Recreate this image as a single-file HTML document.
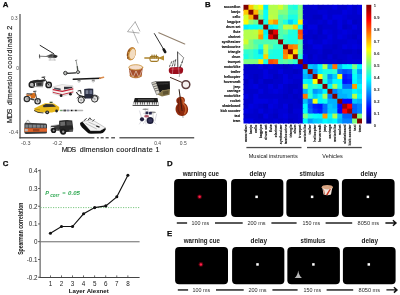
<!DOCTYPE html>
<html lang="en"><head><meta charset="utf-8"><title>Figure</title>
<style>
html,body{margin:0;padding:0;background:#fff}
svg{display:block;will-change:transform}
text{font-family:"Liberation Sans",Arial,sans-serif}
.b{font-weight:bold}
</style></head><body>
<svg width="400" height="295" viewBox="0 0 400 295">
<rect width="400" height="295" fill="#fff"/>
<g id="panelB">
<rect x="243.50" y="4.80" width="6.14" height="6.15" fill="#800000"/>
<rect x="248.44" y="4.80" width="6.14" height="6.15" fill="#ffc700"/>
<rect x="253.38" y="4.80" width="6.14" height="6.15" fill="#d1ff2e"/>
<rect x="258.31" y="4.80" width="6.14" height="6.15" fill="#faff05"/>
<rect x="263.25" y="4.80" width="6.14" height="6.15" fill="#00f0ff"/>
<rect x="268.19" y="4.80" width="6.14" height="6.15" fill="#b3ff4c"/>
<rect x="273.12" y="4.80" width="6.14" height="6.15" fill="#b3ff4c"/>
<rect x="278.06" y="4.80" width="6.14" height="6.15" fill="#d1ff2e"/>
<rect x="283.00" y="4.80" width="6.14" height="6.15" fill="#94ff6b"/>
<rect x="287.94" y="4.80" width="6.14" height="6.15" fill="#2effd1"/>
<rect x="292.88" y="4.80" width="6.14" height="6.15" fill="#1affe5"/>
<rect x="297.81" y="4.80" width="6.14" height="6.15" fill="#80ff80"/>
<rect x="302.75" y="4.80" width="6.14" height="6.15" fill="#0000cc"/>
<rect x="307.69" y="4.80" width="6.14" height="6.15" fill="#0000cc"/>
<rect x="312.62" y="4.80" width="6.14" height="6.15" fill="#0000d6"/>
<rect x="317.56" y="4.80" width="6.14" height="6.15" fill="#0000c2"/>
<rect x="322.50" y="4.80" width="6.14" height="6.15" fill="#0000cc"/>
<rect x="327.44" y="4.80" width="6.14" height="6.15" fill="#0000cc"/>
<rect x="332.38" y="4.80" width="6.14" height="6.15" fill="#0000e0"/>
<rect x="337.31" y="4.80" width="6.14" height="6.15" fill="#0000cc"/>
<rect x="342.25" y="4.80" width="6.14" height="6.15" fill="#0000cc"/>
<rect x="347.19" y="4.80" width="6.14" height="6.15" fill="#0000e0"/>
<rect x="352.12" y="4.80" width="6.14" height="6.15" fill="#0000cc"/>
<rect x="357.06" y="4.80" width="4.94" height="6.15" fill="#0000e0"/>
<rect x="243.50" y="9.75" width="6.14" height="6.15" fill="#ffc700"/>
<rect x="248.44" y="9.75" width="6.14" height="6.15" fill="#800000"/>
<rect x="253.38" y="9.75" width="6.14" height="6.15" fill="#ffb300"/>
<rect x="258.31" y="9.75" width="6.14" height="6.15" fill="#94ff6b"/>
<rect x="263.25" y="9.75" width="6.14" height="6.15" fill="#05fffa"/>
<rect x="268.19" y="9.75" width="6.14" height="6.15" fill="#b3ff4c"/>
<rect x="273.12" y="9.75" width="6.14" height="6.15" fill="#b3ff4c"/>
<rect x="278.06" y="9.75" width="6.14" height="6.15" fill="#80ff80"/>
<rect x="283.00" y="9.75" width="6.14" height="6.15" fill="#80ff80"/>
<rect x="287.94" y="9.75" width="6.14" height="6.15" fill="#38ffc7"/>
<rect x="292.88" y="9.75" width="6.14" height="6.15" fill="#38ffc7"/>
<rect x="297.81" y="9.75" width="6.14" height="6.15" fill="#80ff80"/>
<rect x="302.75" y="9.75" width="6.14" height="6.15" fill="#0000cc"/>
<rect x="307.69" y="9.75" width="6.14" height="6.15" fill="#0000cc"/>
<rect x="312.62" y="9.75" width="6.14" height="6.15" fill="#0000cc"/>
<rect x="317.56" y="9.75" width="6.14" height="6.15" fill="#0000d6"/>
<rect x="322.50" y="9.75" width="6.14" height="6.15" fill="#0000d6"/>
<rect x="327.44" y="9.75" width="6.14" height="6.15" fill="#0000cc"/>
<rect x="332.38" y="9.75" width="6.14" height="6.15" fill="#0000cc"/>
<rect x="337.31" y="9.75" width="6.14" height="6.15" fill="#0000cc"/>
<rect x="342.25" y="9.75" width="6.14" height="6.15" fill="#0000e0"/>
<rect x="347.19" y="9.75" width="6.14" height="6.15" fill="#0000d6"/>
<rect x="352.12" y="9.75" width="6.14" height="6.15" fill="#0000cc"/>
<rect x="357.06" y="9.75" width="4.94" height="6.15" fill="#0000e0"/>
<rect x="243.50" y="14.69" width="6.14" height="6.15" fill="#d1ff2e"/>
<rect x="248.44" y="14.69" width="6.14" height="6.15" fill="#ffb300"/>
<rect x="253.38" y="14.69" width="6.14" height="6.15" fill="#800000"/>
<rect x="258.31" y="14.69" width="6.14" height="6.15" fill="#6bff94"/>
<rect x="263.25" y="14.69" width="6.14" height="6.15" fill="#05fffa"/>
<rect x="268.19" y="14.69" width="6.14" height="6.15" fill="#bdff42"/>
<rect x="273.12" y="14.69" width="6.14" height="6.15" fill="#b3ff4c"/>
<rect x="278.06" y="14.69" width="6.14" height="6.15" fill="#4dffb2"/>
<rect x="283.00" y="14.69" width="6.14" height="6.15" fill="#61ff9e"/>
<rect x="287.94" y="14.69" width="6.14" height="6.15" fill="#1affe5"/>
<rect x="292.88" y="14.69" width="6.14" height="6.15" fill="#1affe5"/>
<rect x="297.81" y="14.69" width="6.14" height="6.15" fill="#80ff80"/>
<rect x="302.75" y="14.69" width="6.14" height="6.15" fill="#0000cc"/>
<rect x="307.69" y="14.69" width="6.14" height="6.15" fill="#0000cc"/>
<rect x="312.62" y="14.69" width="6.14" height="6.15" fill="#0000c2"/>
<rect x="317.56" y="14.69" width="6.14" height="6.15" fill="#0000c2"/>
<rect x="322.50" y="14.69" width="6.14" height="6.15" fill="#0000e0"/>
<rect x="327.44" y="14.69" width="6.14" height="6.15" fill="#0000cc"/>
<rect x="332.38" y="14.69" width="6.14" height="6.15" fill="#0000e0"/>
<rect x="337.31" y="14.69" width="6.14" height="6.15" fill="#0000e0"/>
<rect x="342.25" y="14.69" width="6.14" height="6.15" fill="#0000d6"/>
<rect x="347.19" y="14.69" width="6.14" height="6.15" fill="#0000cc"/>
<rect x="352.12" y="14.69" width="6.14" height="6.15" fill="#0000cc"/>
<rect x="357.06" y="14.69" width="4.94" height="6.15" fill="#0000cc"/>
<rect x="243.50" y="19.64" width="6.14" height="6.15" fill="#faff05"/>
<rect x="248.44" y="19.64" width="6.14" height="6.15" fill="#94ff6b"/>
<rect x="253.38" y="19.64" width="6.14" height="6.15" fill="#6bff94"/>
<rect x="258.31" y="19.64" width="6.14" height="6.15" fill="#800000"/>
<rect x="263.25" y="19.64" width="6.14" height="6.15" fill="#1affe5"/>
<rect x="268.19" y="19.64" width="6.14" height="6.15" fill="#ffc700"/>
<rect x="273.12" y="19.64" width="6.14" height="6.15" fill="#ff9400"/>
<rect x="278.06" y="19.64" width="6.14" height="6.15" fill="#4dffb2"/>
<rect x="283.00" y="19.64" width="6.14" height="6.15" fill="#1affe5"/>
<rect x="287.94" y="19.64" width="6.14" height="6.15" fill="#00d1ff"/>
<rect x="292.88" y="19.64" width="6.14" height="6.15" fill="#05fffa"/>
<rect x="297.81" y="19.64" width="6.14" height="6.15" fill="#fff000"/>
<rect x="302.75" y="19.64" width="6.14" height="6.15" fill="#0000e0"/>
<rect x="307.69" y="19.64" width="6.14" height="6.15" fill="#0000cc"/>
<rect x="312.62" y="19.64" width="6.14" height="6.15" fill="#0000cc"/>
<rect x="317.56" y="19.64" width="6.14" height="6.15" fill="#0000d6"/>
<rect x="322.50" y="19.64" width="6.14" height="6.15" fill="#0000cc"/>
<rect x="327.44" y="19.64" width="6.14" height="6.15" fill="#0000e0"/>
<rect x="332.38" y="19.64" width="6.14" height="6.15" fill="#0000cc"/>
<rect x="337.31" y="19.64" width="6.14" height="6.15" fill="#0000e0"/>
<rect x="342.25" y="19.64" width="6.14" height="6.15" fill="#0000cc"/>
<rect x="347.19" y="19.64" width="6.14" height="6.15" fill="#0000e0"/>
<rect x="352.12" y="19.64" width="6.14" height="6.15" fill="#0000c2"/>
<rect x="357.06" y="19.64" width="4.94" height="6.15" fill="#0000cc"/>
<rect x="243.50" y="24.58" width="6.14" height="6.15" fill="#00f0ff"/>
<rect x="248.44" y="24.58" width="6.14" height="6.15" fill="#05fffa"/>
<rect x="253.38" y="24.58" width="6.14" height="6.15" fill="#05fffa"/>
<rect x="258.31" y="24.58" width="6.14" height="6.15" fill="#1affe5"/>
<rect x="263.25" y="24.58" width="6.14" height="6.15" fill="#800000"/>
<rect x="268.19" y="24.58" width="6.14" height="6.15" fill="#00f0ff"/>
<rect x="273.12" y="24.58" width="6.14" height="6.15" fill="#05fffa"/>
<rect x="278.06" y="24.58" width="6.14" height="6.15" fill="#4dffb2"/>
<rect x="283.00" y="24.58" width="6.14" height="6.15" fill="#bdff42"/>
<rect x="287.94" y="24.58" width="6.14" height="6.15" fill="#b3ff4c"/>
<rect x="292.88" y="24.58" width="6.14" height="6.15" fill="#ffd100"/>
<rect x="297.81" y="24.58" width="6.14" height="6.15" fill="#1affe5"/>
<rect x="302.75" y="24.58" width="6.14" height="6.15" fill="#0000cc"/>
<rect x="307.69" y="24.58" width="6.14" height="6.15" fill="#0000e0"/>
<rect x="312.62" y="24.58" width="6.14" height="6.15" fill="#0000e0"/>
<rect x="317.56" y="24.58" width="6.14" height="6.15" fill="#0000c2"/>
<rect x="322.50" y="24.58" width="6.14" height="6.15" fill="#0000cc"/>
<rect x="327.44" y="24.58" width="6.14" height="6.15" fill="#0000cc"/>
<rect x="332.38" y="24.58" width="6.14" height="6.15" fill="#0000cc"/>
<rect x="337.31" y="24.58" width="6.14" height="6.15" fill="#0000e0"/>
<rect x="342.25" y="24.58" width="6.14" height="6.15" fill="#0000c2"/>
<rect x="347.19" y="24.58" width="6.14" height="6.15" fill="#0000cc"/>
<rect x="352.12" y="24.58" width="6.14" height="6.15" fill="#0000e0"/>
<rect x="357.06" y="24.58" width="4.94" height="6.15" fill="#0000cc"/>
<rect x="243.50" y="29.53" width="6.14" height="6.15" fill="#b3ff4c"/>
<rect x="248.44" y="29.53" width="6.14" height="6.15" fill="#b3ff4c"/>
<rect x="253.38" y="29.53" width="6.14" height="6.15" fill="#bdff42"/>
<rect x="258.31" y="29.53" width="6.14" height="6.15" fill="#ffc700"/>
<rect x="263.25" y="29.53" width="6.14" height="6.15" fill="#00f0ff"/>
<rect x="268.19" y="29.53" width="6.14" height="6.15" fill="#800000"/>
<rect x="273.12" y="29.53" width="6.14" height="6.15" fill="#e50000"/>
<rect x="278.06" y="29.53" width="6.14" height="6.15" fill="#4dffb2"/>
<rect x="283.00" y="29.53" width="6.14" height="6.15" fill="#61ff9e"/>
<rect x="287.94" y="29.53" width="6.14" height="6.15" fill="#24ffdb"/>
<rect x="292.88" y="29.53" width="6.14" height="6.15" fill="#1affe5"/>
<rect x="297.81" y="29.53" width="6.14" height="6.15" fill="#ff4c00"/>
<rect x="302.75" y="29.53" width="6.14" height="6.15" fill="#0000e0"/>
<rect x="307.69" y="29.53" width="6.14" height="6.15" fill="#0000cc"/>
<rect x="312.62" y="29.53" width="6.14" height="6.15" fill="#0000d6"/>
<rect x="317.56" y="29.53" width="6.14" height="6.15" fill="#0000c2"/>
<rect x="322.50" y="29.53" width="6.14" height="6.15" fill="#0000e0"/>
<rect x="327.44" y="29.53" width="6.14" height="6.15" fill="#0000d6"/>
<rect x="332.38" y="29.53" width="6.14" height="6.15" fill="#0000cc"/>
<rect x="337.31" y="29.53" width="6.14" height="6.15" fill="#0000d6"/>
<rect x="342.25" y="29.53" width="6.14" height="6.15" fill="#0000e0"/>
<rect x="347.19" y="29.53" width="6.14" height="6.15" fill="#0000d6"/>
<rect x="352.12" y="29.53" width="6.14" height="6.15" fill="#0000cc"/>
<rect x="357.06" y="29.53" width="4.94" height="6.15" fill="#0000cc"/>
<rect x="243.50" y="34.48" width="6.14" height="6.15" fill="#b3ff4c"/>
<rect x="248.44" y="34.48" width="6.14" height="6.15" fill="#b3ff4c"/>
<rect x="253.38" y="34.48" width="6.14" height="6.15" fill="#b3ff4c"/>
<rect x="258.31" y="34.48" width="6.14" height="6.15" fill="#ff9400"/>
<rect x="263.25" y="34.48" width="6.14" height="6.15" fill="#05fffa"/>
<rect x="268.19" y="34.48" width="6.14" height="6.15" fill="#e50000"/>
<rect x="273.12" y="34.48" width="6.14" height="6.15" fill="#800000"/>
<rect x="278.06" y="34.48" width="6.14" height="6.15" fill="#4dffb2"/>
<rect x="283.00" y="34.48" width="6.14" height="6.15" fill="#2effd1"/>
<rect x="287.94" y="34.48" width="6.14" height="6.15" fill="#1affe5"/>
<rect x="292.88" y="34.48" width="6.14" height="6.15" fill="#1affe5"/>
<rect x="297.81" y="34.48" width="6.14" height="6.15" fill="#ff6100"/>
<rect x="302.75" y="34.48" width="6.14" height="6.15" fill="#0000cc"/>
<rect x="307.69" y="34.48" width="6.14" height="6.15" fill="#0000cc"/>
<rect x="312.62" y="34.48" width="6.14" height="6.15" fill="#0000c2"/>
<rect x="317.56" y="34.48" width="6.14" height="6.15" fill="#0000cc"/>
<rect x="322.50" y="34.48" width="6.14" height="6.15" fill="#0000cc"/>
<rect x="327.44" y="34.48" width="6.14" height="6.15" fill="#0000e0"/>
<rect x="332.38" y="34.48" width="6.14" height="6.15" fill="#0000cc"/>
<rect x="337.31" y="34.48" width="6.14" height="6.15" fill="#0000e0"/>
<rect x="342.25" y="34.48" width="6.14" height="6.15" fill="#0000d6"/>
<rect x="347.19" y="34.48" width="6.14" height="6.15" fill="#0000cc"/>
<rect x="352.12" y="34.48" width="6.14" height="6.15" fill="#0000c2"/>
<rect x="357.06" y="34.48" width="4.94" height="6.15" fill="#0000d6"/>
<rect x="243.50" y="39.42" width="6.14" height="6.15" fill="#d1ff2e"/>
<rect x="248.44" y="39.42" width="6.14" height="6.15" fill="#80ff80"/>
<rect x="253.38" y="39.42" width="6.14" height="6.15" fill="#4dffb2"/>
<rect x="258.31" y="39.42" width="6.14" height="6.15" fill="#4dffb2"/>
<rect x="263.25" y="39.42" width="6.14" height="6.15" fill="#4dffb2"/>
<rect x="268.19" y="39.42" width="6.14" height="6.15" fill="#4dffb2"/>
<rect x="273.12" y="39.42" width="6.14" height="6.15" fill="#4dffb2"/>
<rect x="278.06" y="39.42" width="6.14" height="6.15" fill="#800000"/>
<rect x="283.00" y="39.42" width="6.14" height="6.15" fill="#2effd1"/>
<rect x="287.94" y="39.42" width="6.14" height="6.15" fill="#1affe5"/>
<rect x="292.88" y="39.42" width="6.14" height="6.15" fill="#1affe5"/>
<rect x="297.81" y="39.42" width="6.14" height="6.15" fill="#4dffb2"/>
<rect x="302.75" y="39.42" width="6.14" height="6.15" fill="#0000cc"/>
<rect x="307.69" y="39.42" width="6.14" height="6.15" fill="#0000e0"/>
<rect x="312.62" y="39.42" width="6.14" height="6.15" fill="#0000cc"/>
<rect x="317.56" y="39.42" width="6.14" height="6.15" fill="#0000cc"/>
<rect x="322.50" y="39.42" width="6.14" height="6.15" fill="#0000e0"/>
<rect x="327.44" y="39.42" width="6.14" height="6.15" fill="#0000d6"/>
<rect x="332.38" y="39.42" width="6.14" height="6.15" fill="#0000cc"/>
<rect x="337.31" y="39.42" width="6.14" height="6.15" fill="#0000cc"/>
<rect x="342.25" y="39.42" width="6.14" height="6.15" fill="#0000cc"/>
<rect x="347.19" y="39.42" width="6.14" height="6.15" fill="#0000d6"/>
<rect x="352.12" y="39.42" width="6.14" height="6.15" fill="#0000d6"/>
<rect x="357.06" y="39.42" width="4.94" height="6.15" fill="#0000cc"/>
<rect x="243.50" y="44.37" width="6.14" height="6.15" fill="#94ff6b"/>
<rect x="248.44" y="44.37" width="6.14" height="6.15" fill="#80ff80"/>
<rect x="253.38" y="44.37" width="6.14" height="6.15" fill="#61ff9e"/>
<rect x="258.31" y="44.37" width="6.14" height="6.15" fill="#1affe5"/>
<rect x="263.25" y="44.37" width="6.14" height="6.15" fill="#bdff42"/>
<rect x="268.19" y="44.37" width="6.14" height="6.15" fill="#61ff9e"/>
<rect x="273.12" y="44.37" width="6.14" height="6.15" fill="#2effd1"/>
<rect x="278.06" y="44.37" width="6.14" height="6.15" fill="#2effd1"/>
<rect x="283.00" y="44.37" width="6.14" height="6.15" fill="#800000"/>
<rect x="287.94" y="44.37" width="6.14" height="6.15" fill="#ff7500"/>
<rect x="292.88" y="44.37" width="6.14" height="6.15" fill="#ff8a00"/>
<rect x="297.81" y="44.37" width="6.14" height="6.15" fill="#61ff9e"/>
<rect x="302.75" y="44.37" width="6.14" height="6.15" fill="#0000c2"/>
<rect x="307.69" y="44.37" width="6.14" height="6.15" fill="#0000cc"/>
<rect x="312.62" y="44.37" width="6.14" height="6.15" fill="#0000e0"/>
<rect x="317.56" y="44.37" width="6.14" height="6.15" fill="#0000e0"/>
<rect x="322.50" y="44.37" width="6.14" height="6.15" fill="#0000cc"/>
<rect x="327.44" y="44.37" width="6.14" height="6.15" fill="#0000cc"/>
<rect x="332.38" y="44.37" width="6.14" height="6.15" fill="#0000c2"/>
<rect x="337.31" y="44.37" width="6.14" height="6.15" fill="#0000cc"/>
<rect x="342.25" y="44.37" width="6.14" height="6.15" fill="#0000e0"/>
<rect x="347.19" y="44.37" width="6.14" height="6.15" fill="#0000d6"/>
<rect x="352.12" y="44.37" width="6.14" height="6.15" fill="#0000e0"/>
<rect x="357.06" y="44.37" width="4.94" height="6.15" fill="#0000d6"/>
<rect x="243.50" y="49.31" width="6.14" height="6.15" fill="#2effd1"/>
<rect x="248.44" y="49.31" width="6.14" height="6.15" fill="#38ffc7"/>
<rect x="253.38" y="49.31" width="6.14" height="6.15" fill="#1affe5"/>
<rect x="258.31" y="49.31" width="6.14" height="6.15" fill="#00d1ff"/>
<rect x="263.25" y="49.31" width="6.14" height="6.15" fill="#b3ff4c"/>
<rect x="268.19" y="49.31" width="6.14" height="6.15" fill="#24ffdb"/>
<rect x="273.12" y="49.31" width="6.14" height="6.15" fill="#1affe5"/>
<rect x="278.06" y="49.31" width="6.14" height="6.15" fill="#1affe5"/>
<rect x="283.00" y="49.31" width="6.14" height="6.15" fill="#ff7500"/>
<rect x="287.94" y="49.31" width="6.14" height="6.15" fill="#800000"/>
<rect x="292.88" y="49.31" width="6.14" height="6.15" fill="#ffdb00"/>
<rect x="297.81" y="49.31" width="6.14" height="6.15" fill="#4dffb2"/>
<rect x="302.75" y="49.31" width="6.14" height="6.15" fill="#0000cc"/>
<rect x="307.69" y="49.31" width="6.14" height="6.15" fill="#0000cc"/>
<rect x="312.62" y="49.31" width="6.14" height="6.15" fill="#0000cc"/>
<rect x="317.56" y="49.31" width="6.14" height="6.15" fill="#0000d6"/>
<rect x="322.50" y="49.31" width="6.14" height="6.15" fill="#0000c2"/>
<rect x="327.44" y="49.31" width="6.14" height="6.15" fill="#0000c2"/>
<rect x="332.38" y="49.31" width="6.14" height="6.15" fill="#0000cc"/>
<rect x="337.31" y="49.31" width="6.14" height="6.15" fill="#0000cc"/>
<rect x="342.25" y="49.31" width="6.14" height="6.15" fill="#0000c2"/>
<rect x="347.19" y="49.31" width="6.14" height="6.15" fill="#0000c2"/>
<rect x="352.12" y="49.31" width="6.14" height="6.15" fill="#0000cc"/>
<rect x="357.06" y="49.31" width="4.94" height="6.15" fill="#0000c2"/>
<rect x="243.50" y="54.26" width="6.14" height="6.15" fill="#1affe5"/>
<rect x="248.44" y="54.26" width="6.14" height="6.15" fill="#38ffc7"/>
<rect x="253.38" y="54.26" width="6.14" height="6.15" fill="#1affe5"/>
<rect x="258.31" y="54.26" width="6.14" height="6.15" fill="#05fffa"/>
<rect x="263.25" y="54.26" width="6.14" height="6.15" fill="#ffd100"/>
<rect x="268.19" y="54.26" width="6.14" height="6.15" fill="#1affe5"/>
<rect x="273.12" y="54.26" width="6.14" height="6.15" fill="#1affe5"/>
<rect x="278.06" y="54.26" width="6.14" height="6.15" fill="#1affe5"/>
<rect x="283.00" y="54.26" width="6.14" height="6.15" fill="#ff8a00"/>
<rect x="287.94" y="54.26" width="6.14" height="6.15" fill="#ffdb00"/>
<rect x="292.88" y="54.26" width="6.14" height="6.15" fill="#800000"/>
<rect x="297.81" y="54.26" width="6.14" height="6.15" fill="#2effd1"/>
<rect x="302.75" y="54.26" width="6.14" height="6.15" fill="#0000e0"/>
<rect x="307.69" y="54.26" width="6.14" height="6.15" fill="#0000c2"/>
<rect x="312.62" y="54.26" width="6.14" height="6.15" fill="#0000d6"/>
<rect x="317.56" y="54.26" width="6.14" height="6.15" fill="#0000cc"/>
<rect x="322.50" y="54.26" width="6.14" height="6.15" fill="#0000c2"/>
<rect x="327.44" y="54.26" width="6.14" height="6.15" fill="#0000d6"/>
<rect x="332.38" y="54.26" width="6.14" height="6.15" fill="#0000c2"/>
<rect x="337.31" y="54.26" width="6.14" height="6.15" fill="#0000cc"/>
<rect x="342.25" y="54.26" width="6.14" height="6.15" fill="#0000cc"/>
<rect x="347.19" y="54.26" width="6.14" height="6.15" fill="#0000d6"/>
<rect x="352.12" y="54.26" width="6.14" height="6.15" fill="#0000cc"/>
<rect x="357.06" y="54.26" width="4.94" height="6.15" fill="#0000cc"/>
<rect x="243.50" y="59.20" width="6.14" height="6.15" fill="#80ff80"/>
<rect x="248.44" y="59.20" width="6.14" height="6.15" fill="#80ff80"/>
<rect x="253.38" y="59.20" width="6.14" height="6.15" fill="#80ff80"/>
<rect x="258.31" y="59.20" width="6.14" height="6.15" fill="#fff000"/>
<rect x="263.25" y="59.20" width="6.14" height="6.15" fill="#1affe5"/>
<rect x="268.19" y="59.20" width="6.14" height="6.15" fill="#ff4c00"/>
<rect x="273.12" y="59.20" width="6.14" height="6.15" fill="#ff6100"/>
<rect x="278.06" y="59.20" width="6.14" height="6.15" fill="#4dffb2"/>
<rect x="283.00" y="59.20" width="6.14" height="6.15" fill="#61ff9e"/>
<rect x="287.94" y="59.20" width="6.14" height="6.15" fill="#4dffb2"/>
<rect x="292.88" y="59.20" width="6.14" height="6.15" fill="#2effd1"/>
<rect x="297.81" y="59.20" width="6.14" height="6.15" fill="#800000"/>
<rect x="302.75" y="59.20" width="6.14" height="6.15" fill="#0000e0"/>
<rect x="307.69" y="59.20" width="6.14" height="6.15" fill="#0000cc"/>
<rect x="312.62" y="59.20" width="6.14" height="6.15" fill="#0000d6"/>
<rect x="317.56" y="59.20" width="6.14" height="6.15" fill="#0000cc"/>
<rect x="322.50" y="59.20" width="6.14" height="6.15" fill="#0000cc"/>
<rect x="327.44" y="59.20" width="6.14" height="6.15" fill="#0000cc"/>
<rect x="332.38" y="59.20" width="6.14" height="6.15" fill="#0000cc"/>
<rect x="337.31" y="59.20" width="6.14" height="6.15" fill="#0000c2"/>
<rect x="342.25" y="59.20" width="6.14" height="6.15" fill="#0000cc"/>
<rect x="347.19" y="59.20" width="6.14" height="6.15" fill="#0000d6"/>
<rect x="352.12" y="59.20" width="6.14" height="6.15" fill="#0000d6"/>
<rect x="357.06" y="59.20" width="4.94" height="6.15" fill="#0000d6"/>
<rect x="243.50" y="64.15" width="6.14" height="6.15" fill="#0000cc"/>
<rect x="248.44" y="64.15" width="6.14" height="6.15" fill="#0000cc"/>
<rect x="253.38" y="64.15" width="6.14" height="6.15" fill="#0000cc"/>
<rect x="258.31" y="64.15" width="6.14" height="6.15" fill="#0000e0"/>
<rect x="263.25" y="64.15" width="6.14" height="6.15" fill="#0000cc"/>
<rect x="268.19" y="64.15" width="6.14" height="6.15" fill="#0000e0"/>
<rect x="273.12" y="64.15" width="6.14" height="6.15" fill="#0000cc"/>
<rect x="278.06" y="64.15" width="6.14" height="6.15" fill="#0000cc"/>
<rect x="283.00" y="64.15" width="6.14" height="6.15" fill="#0000c2"/>
<rect x="287.94" y="64.15" width="6.14" height="6.15" fill="#0000cc"/>
<rect x="292.88" y="64.15" width="6.14" height="6.15" fill="#0000e0"/>
<rect x="297.81" y="64.15" width="6.14" height="6.15" fill="#0000e0"/>
<rect x="302.75" y="64.15" width="6.14" height="6.15" fill="#800000"/>
<rect x="307.69" y="64.15" width="6.14" height="6.15" fill="#00c7ff"/>
<rect x="312.62" y="64.15" width="6.14" height="6.15" fill="#00b2ff"/>
<rect x="317.56" y="64.15" width="6.14" height="6.15" fill="#00faff"/>
<rect x="322.50" y="64.15" width="6.14" height="6.15" fill="#b3ff4c"/>
<rect x="327.44" y="64.15" width="6.14" height="6.15" fill="#00b2ff"/>
<rect x="332.38" y="64.15" width="6.14" height="6.15" fill="#ff7500"/>
<rect x="337.31" y="64.15" width="6.14" height="6.15" fill="#00bdff"/>
<rect x="342.25" y="64.15" width="6.14" height="6.15" fill="#00faff"/>
<rect x="347.19" y="64.15" width="6.14" height="6.15" fill="#05fffa"/>
<rect x="352.12" y="64.15" width="6.14" height="6.15" fill="#80ff80"/>
<rect x="357.06" y="64.15" width="4.94" height="6.15" fill="#00faff"/>
<rect x="243.50" y="69.10" width="6.14" height="6.15" fill="#0000cc"/>
<rect x="248.44" y="69.10" width="6.14" height="6.15" fill="#0000cc"/>
<rect x="253.38" y="69.10" width="6.14" height="6.15" fill="#0000cc"/>
<rect x="258.31" y="69.10" width="6.14" height="6.15" fill="#0000cc"/>
<rect x="263.25" y="69.10" width="6.14" height="6.15" fill="#0000e0"/>
<rect x="268.19" y="69.10" width="6.14" height="6.15" fill="#0000cc"/>
<rect x="273.12" y="69.10" width="6.14" height="6.15" fill="#0000cc"/>
<rect x="278.06" y="69.10" width="6.14" height="6.15" fill="#0000e0"/>
<rect x="283.00" y="69.10" width="6.14" height="6.15" fill="#0000cc"/>
<rect x="287.94" y="69.10" width="6.14" height="6.15" fill="#0000cc"/>
<rect x="292.88" y="69.10" width="6.14" height="6.15" fill="#0000c2"/>
<rect x="297.81" y="69.10" width="6.14" height="6.15" fill="#0000cc"/>
<rect x="302.75" y="69.10" width="6.14" height="6.15" fill="#00c7ff"/>
<rect x="307.69" y="69.10" width="6.14" height="6.15" fill="#800000"/>
<rect x="312.62" y="69.10" width="6.14" height="6.15" fill="#0094ff"/>
<rect x="317.56" y="69.10" width="6.14" height="6.15" fill="#00f0ff"/>
<rect x="322.50" y="69.10" width="6.14" height="6.15" fill="#1affe5"/>
<rect x="327.44" y="69.10" width="6.14" height="6.15" fill="#1affe5"/>
<rect x="332.38" y="69.10" width="6.14" height="6.15" fill="#2effd1"/>
<rect x="337.31" y="69.10" width="6.14" height="6.15" fill="#006bff"/>
<rect x="342.25" y="69.10" width="6.14" height="6.15" fill="#004dff"/>
<rect x="347.19" y="69.10" width="6.14" height="6.15" fill="#0061ff"/>
<rect x="352.12" y="69.10" width="6.14" height="6.15" fill="#1affe5"/>
<rect x="357.06" y="69.10" width="4.94" height="6.15" fill="#009eff"/>
<rect x="243.50" y="74.04" width="6.14" height="6.15" fill="#0000d6"/>
<rect x="248.44" y="74.04" width="6.14" height="6.15" fill="#0000cc"/>
<rect x="253.38" y="74.04" width="6.14" height="6.15" fill="#0000c2"/>
<rect x="258.31" y="74.04" width="6.14" height="6.15" fill="#0000cc"/>
<rect x="263.25" y="74.04" width="6.14" height="6.15" fill="#0000e0"/>
<rect x="268.19" y="74.04" width="6.14" height="6.15" fill="#0000d6"/>
<rect x="273.12" y="74.04" width="6.14" height="6.15" fill="#0000c2"/>
<rect x="278.06" y="74.04" width="6.14" height="6.15" fill="#0000cc"/>
<rect x="283.00" y="74.04" width="6.14" height="6.15" fill="#0000e0"/>
<rect x="287.94" y="74.04" width="6.14" height="6.15" fill="#0000cc"/>
<rect x="292.88" y="74.04" width="6.14" height="6.15" fill="#0000d6"/>
<rect x="297.81" y="74.04" width="6.14" height="6.15" fill="#0000d6"/>
<rect x="302.75" y="74.04" width="6.14" height="6.15" fill="#00b2ff"/>
<rect x="307.69" y="74.04" width="6.14" height="6.15" fill="#0094ff"/>
<rect x="312.62" y="74.04" width="6.14" height="6.15" fill="#800000"/>
<rect x="317.56" y="74.04" width="6.14" height="6.15" fill="#faff05"/>
<rect x="322.50" y="74.04" width="6.14" height="6.15" fill="#38ffc7"/>
<rect x="327.44" y="74.04" width="6.14" height="6.15" fill="#0094ff"/>
<rect x="332.38" y="74.04" width="6.14" height="6.15" fill="#00d1ff"/>
<rect x="337.31" y="74.04" width="6.14" height="6.15" fill="#f0ff0f"/>
<rect x="342.25" y="74.04" width="6.14" height="6.15" fill="#001aff"/>
<rect x="347.19" y="74.04" width="6.14" height="6.15" fill="#002eff"/>
<rect x="352.12" y="74.04" width="6.14" height="6.15" fill="#05fffa"/>
<rect x="357.06" y="74.04" width="4.94" height="6.15" fill="#00c7ff"/>
<rect x="243.50" y="78.99" width="6.14" height="6.15" fill="#0000c2"/>
<rect x="248.44" y="78.99" width="6.14" height="6.15" fill="#0000d6"/>
<rect x="253.38" y="78.99" width="6.14" height="6.15" fill="#0000c2"/>
<rect x="258.31" y="78.99" width="6.14" height="6.15" fill="#0000d6"/>
<rect x="263.25" y="78.99" width="6.14" height="6.15" fill="#0000c2"/>
<rect x="268.19" y="78.99" width="6.14" height="6.15" fill="#0000c2"/>
<rect x="273.12" y="78.99" width="6.14" height="6.15" fill="#0000cc"/>
<rect x="278.06" y="78.99" width="6.14" height="6.15" fill="#0000cc"/>
<rect x="283.00" y="78.99" width="6.14" height="6.15" fill="#0000e0"/>
<rect x="287.94" y="78.99" width="6.14" height="6.15" fill="#0000d6"/>
<rect x="292.88" y="78.99" width="6.14" height="6.15" fill="#0000cc"/>
<rect x="297.81" y="78.99" width="6.14" height="6.15" fill="#0000cc"/>
<rect x="302.75" y="78.99" width="6.14" height="6.15" fill="#00faff"/>
<rect x="307.69" y="78.99" width="6.14" height="6.15" fill="#00f0ff"/>
<rect x="312.62" y="78.99" width="6.14" height="6.15" fill="#faff05"/>
<rect x="317.56" y="78.99" width="6.14" height="6.15" fill="#800000"/>
<rect x="322.50" y="78.99" width="6.14" height="6.15" fill="#1affe5"/>
<rect x="327.44" y="78.99" width="6.14" height="6.15" fill="#00b2ff"/>
<rect x="332.38" y="78.99" width="6.14" height="6.15" fill="#00faff"/>
<rect x="337.31" y="78.99" width="6.14" height="6.15" fill="#00faff"/>
<rect x="342.25" y="78.99" width="6.14" height="6.15" fill="#000fff"/>
<rect x="347.19" y="78.99" width="6.14" height="6.15" fill="#001aff"/>
<rect x="352.12" y="78.99" width="6.14" height="6.15" fill="#00faff"/>
<rect x="357.06" y="78.99" width="4.94" height="6.15" fill="#00d1ff"/>
<rect x="243.50" y="83.93" width="6.14" height="6.15" fill="#0000cc"/>
<rect x="248.44" y="83.93" width="6.14" height="6.15" fill="#0000d6"/>
<rect x="253.38" y="83.93" width="6.14" height="6.15" fill="#0000e0"/>
<rect x="258.31" y="83.93" width="6.14" height="6.15" fill="#0000cc"/>
<rect x="263.25" y="83.93" width="6.14" height="6.15" fill="#0000cc"/>
<rect x="268.19" y="83.93" width="6.14" height="6.15" fill="#0000e0"/>
<rect x="273.12" y="83.93" width="6.14" height="6.15" fill="#0000cc"/>
<rect x="278.06" y="83.93" width="6.14" height="6.15" fill="#0000e0"/>
<rect x="283.00" y="83.93" width="6.14" height="6.15" fill="#0000cc"/>
<rect x="287.94" y="83.93" width="6.14" height="6.15" fill="#0000c2"/>
<rect x="292.88" y="83.93" width="6.14" height="6.15" fill="#0000c2"/>
<rect x="297.81" y="83.93" width="6.14" height="6.15" fill="#0000cc"/>
<rect x="302.75" y="83.93" width="6.14" height="6.15" fill="#b3ff4c"/>
<rect x="307.69" y="83.93" width="6.14" height="6.15" fill="#1affe5"/>
<rect x="312.62" y="83.93" width="6.14" height="6.15" fill="#38ffc7"/>
<rect x="317.56" y="83.93" width="6.14" height="6.15" fill="#1affe5"/>
<rect x="322.50" y="83.93" width="6.14" height="6.15" fill="#800000"/>
<rect x="327.44" y="83.93" width="6.14" height="6.15" fill="#00faff"/>
<rect x="332.38" y="83.93" width="6.14" height="6.15" fill="#a8ff57"/>
<rect x="337.31" y="83.93" width="6.14" height="6.15" fill="#0ffff0"/>
<rect x="342.25" y="83.93" width="6.14" height="6.15" fill="#006bff"/>
<rect x="347.19" y="83.93" width="6.14" height="6.15" fill="#006bff"/>
<rect x="352.12" y="83.93" width="6.14" height="6.15" fill="#ff9e00"/>
<rect x="357.06" y="83.93" width="4.94" height="6.15" fill="#00faff"/>
<rect x="243.50" y="88.88" width="6.14" height="6.15" fill="#0000cc"/>
<rect x="248.44" y="88.88" width="6.14" height="6.15" fill="#0000cc"/>
<rect x="253.38" y="88.88" width="6.14" height="6.15" fill="#0000cc"/>
<rect x="258.31" y="88.88" width="6.14" height="6.15" fill="#0000e0"/>
<rect x="263.25" y="88.88" width="6.14" height="6.15" fill="#0000cc"/>
<rect x="268.19" y="88.88" width="6.14" height="6.15" fill="#0000d6"/>
<rect x="273.12" y="88.88" width="6.14" height="6.15" fill="#0000e0"/>
<rect x="278.06" y="88.88" width="6.14" height="6.15" fill="#0000d6"/>
<rect x="283.00" y="88.88" width="6.14" height="6.15" fill="#0000cc"/>
<rect x="287.94" y="88.88" width="6.14" height="6.15" fill="#0000c2"/>
<rect x="292.88" y="88.88" width="6.14" height="6.15" fill="#0000d6"/>
<rect x="297.81" y="88.88" width="6.14" height="6.15" fill="#0000cc"/>
<rect x="302.75" y="88.88" width="6.14" height="6.15" fill="#00b2ff"/>
<rect x="307.69" y="88.88" width="6.14" height="6.15" fill="#1affe5"/>
<rect x="312.62" y="88.88" width="6.14" height="6.15" fill="#0094ff"/>
<rect x="317.56" y="88.88" width="6.14" height="6.15" fill="#00b2ff"/>
<rect x="322.50" y="88.88" width="6.14" height="6.15" fill="#00faff"/>
<rect x="327.44" y="88.88" width="6.14" height="6.15" fill="#800000"/>
<rect x="332.38" y="88.88" width="6.14" height="6.15" fill="#0080ff"/>
<rect x="337.31" y="88.88" width="6.14" height="6.15" fill="#00b2ff"/>
<rect x="342.25" y="88.88" width="6.14" height="6.15" fill="#00c7ff"/>
<rect x="347.19" y="88.88" width="6.14" height="6.15" fill="#00c7ff"/>
<rect x="352.12" y="88.88" width="6.14" height="6.15" fill="#00faff"/>
<rect x="357.06" y="88.88" width="4.94" height="6.15" fill="#00e5ff"/>
<rect x="243.50" y="93.83" width="6.14" height="6.15" fill="#0000e0"/>
<rect x="248.44" y="93.83" width="6.14" height="6.15" fill="#0000cc"/>
<rect x="253.38" y="93.83" width="6.14" height="6.15" fill="#0000e0"/>
<rect x="258.31" y="93.83" width="6.14" height="6.15" fill="#0000cc"/>
<rect x="263.25" y="93.83" width="6.14" height="6.15" fill="#0000cc"/>
<rect x="268.19" y="93.83" width="6.14" height="6.15" fill="#0000cc"/>
<rect x="273.12" y="93.83" width="6.14" height="6.15" fill="#0000cc"/>
<rect x="278.06" y="93.83" width="6.14" height="6.15" fill="#0000cc"/>
<rect x="283.00" y="93.83" width="6.14" height="6.15" fill="#0000c2"/>
<rect x="287.94" y="93.83" width="6.14" height="6.15" fill="#0000cc"/>
<rect x="292.88" y="93.83" width="6.14" height="6.15" fill="#0000c2"/>
<rect x="297.81" y="93.83" width="6.14" height="6.15" fill="#0000cc"/>
<rect x="302.75" y="93.83" width="6.14" height="6.15" fill="#ff7500"/>
<rect x="307.69" y="93.83" width="6.14" height="6.15" fill="#2effd1"/>
<rect x="312.62" y="93.83" width="6.14" height="6.15" fill="#00d1ff"/>
<rect x="317.56" y="93.83" width="6.14" height="6.15" fill="#00faff"/>
<rect x="322.50" y="93.83" width="6.14" height="6.15" fill="#a8ff57"/>
<rect x="327.44" y="93.83" width="6.14" height="6.15" fill="#0080ff"/>
<rect x="332.38" y="93.83" width="6.14" height="6.15" fill="#800000"/>
<rect x="337.31" y="93.83" width="6.14" height="6.15" fill="#00b2ff"/>
<rect x="342.25" y="93.83" width="6.14" height="6.15" fill="#00b2ff"/>
<rect x="347.19" y="93.83" width="6.14" height="6.15" fill="#00c7ff"/>
<rect x="352.12" y="93.83" width="6.14" height="6.15" fill="#b3ff4c"/>
<rect x="357.06" y="93.83" width="4.94" height="6.15" fill="#00faff"/>
<rect x="243.50" y="98.77" width="6.14" height="6.15" fill="#0000cc"/>
<rect x="248.44" y="98.77" width="6.14" height="6.15" fill="#0000cc"/>
<rect x="253.38" y="98.77" width="6.14" height="6.15" fill="#0000e0"/>
<rect x="258.31" y="98.77" width="6.14" height="6.15" fill="#0000e0"/>
<rect x="263.25" y="98.77" width="6.14" height="6.15" fill="#0000e0"/>
<rect x="268.19" y="98.77" width="6.14" height="6.15" fill="#0000d6"/>
<rect x="273.12" y="98.77" width="6.14" height="6.15" fill="#0000e0"/>
<rect x="278.06" y="98.77" width="6.14" height="6.15" fill="#0000cc"/>
<rect x="283.00" y="98.77" width="6.14" height="6.15" fill="#0000cc"/>
<rect x="287.94" y="98.77" width="6.14" height="6.15" fill="#0000cc"/>
<rect x="292.88" y="98.77" width="6.14" height="6.15" fill="#0000cc"/>
<rect x="297.81" y="98.77" width="6.14" height="6.15" fill="#0000c2"/>
<rect x="302.75" y="98.77" width="6.14" height="6.15" fill="#00bdff"/>
<rect x="307.69" y="98.77" width="6.14" height="6.15" fill="#006bff"/>
<rect x="312.62" y="98.77" width="6.14" height="6.15" fill="#f0ff0f"/>
<rect x="317.56" y="98.77" width="6.14" height="6.15" fill="#00faff"/>
<rect x="322.50" y="98.77" width="6.14" height="6.15" fill="#0ffff0"/>
<rect x="327.44" y="98.77" width="6.14" height="6.15" fill="#00b2ff"/>
<rect x="332.38" y="98.77" width="6.14" height="6.15" fill="#00b2ff"/>
<rect x="337.31" y="98.77" width="6.14" height="6.15" fill="#800000"/>
<rect x="342.25" y="98.77" width="6.14" height="6.15" fill="#0005ff"/>
<rect x="347.19" y="98.77" width="6.14" height="6.15" fill="#0005ff"/>
<rect x="352.12" y="98.77" width="6.14" height="6.15" fill="#00c7ff"/>
<rect x="357.06" y="98.77" width="4.94" height="6.15" fill="#00b2ff"/>
<rect x="243.50" y="103.72" width="6.14" height="6.15" fill="#0000cc"/>
<rect x="248.44" y="103.72" width="6.14" height="6.15" fill="#0000e0"/>
<rect x="253.38" y="103.72" width="6.14" height="6.15" fill="#0000d6"/>
<rect x="258.31" y="103.72" width="6.14" height="6.15" fill="#0000cc"/>
<rect x="263.25" y="103.72" width="6.14" height="6.15" fill="#0000c2"/>
<rect x="268.19" y="103.72" width="6.14" height="6.15" fill="#0000e0"/>
<rect x="273.12" y="103.72" width="6.14" height="6.15" fill="#0000d6"/>
<rect x="278.06" y="103.72" width="6.14" height="6.15" fill="#0000cc"/>
<rect x="283.00" y="103.72" width="6.14" height="6.15" fill="#0000e0"/>
<rect x="287.94" y="103.72" width="6.14" height="6.15" fill="#0000c2"/>
<rect x="292.88" y="103.72" width="6.14" height="6.15" fill="#0000cc"/>
<rect x="297.81" y="103.72" width="6.14" height="6.15" fill="#0000cc"/>
<rect x="302.75" y="103.72" width="6.14" height="6.15" fill="#00faff"/>
<rect x="307.69" y="103.72" width="6.14" height="6.15" fill="#004dff"/>
<rect x="312.62" y="103.72" width="6.14" height="6.15" fill="#001aff"/>
<rect x="317.56" y="103.72" width="6.14" height="6.15" fill="#000fff"/>
<rect x="322.50" y="103.72" width="6.14" height="6.15" fill="#006bff"/>
<rect x="327.44" y="103.72" width="6.14" height="6.15" fill="#00c7ff"/>
<rect x="332.38" y="103.72" width="6.14" height="6.15" fill="#00b2ff"/>
<rect x="337.31" y="103.72" width="6.14" height="6.15" fill="#0005ff"/>
<rect x="342.25" y="103.72" width="6.14" height="6.15" fill="#9e0000"/>
<rect x="347.19" y="103.72" width="6.14" height="6.15" fill="#fa0000"/>
<rect x="352.12" y="103.72" width="6.14" height="6.15" fill="#0061ff"/>
<rect x="357.06" y="103.72" width="4.94" height="6.15" fill="#0080ff"/>
<rect x="243.50" y="108.66" width="6.14" height="6.15" fill="#0000e0"/>
<rect x="248.44" y="108.66" width="6.14" height="6.15" fill="#0000d6"/>
<rect x="253.38" y="108.66" width="6.14" height="6.15" fill="#0000cc"/>
<rect x="258.31" y="108.66" width="6.14" height="6.15" fill="#0000e0"/>
<rect x="263.25" y="108.66" width="6.14" height="6.15" fill="#0000cc"/>
<rect x="268.19" y="108.66" width="6.14" height="6.15" fill="#0000d6"/>
<rect x="273.12" y="108.66" width="6.14" height="6.15" fill="#0000cc"/>
<rect x="278.06" y="108.66" width="6.14" height="6.15" fill="#0000d6"/>
<rect x="283.00" y="108.66" width="6.14" height="6.15" fill="#0000d6"/>
<rect x="287.94" y="108.66" width="6.14" height="6.15" fill="#0000c2"/>
<rect x="292.88" y="108.66" width="6.14" height="6.15" fill="#0000d6"/>
<rect x="297.81" y="108.66" width="6.14" height="6.15" fill="#0000d6"/>
<rect x="302.75" y="108.66" width="6.14" height="6.15" fill="#05fffa"/>
<rect x="307.69" y="108.66" width="6.14" height="6.15" fill="#0061ff"/>
<rect x="312.62" y="108.66" width="6.14" height="6.15" fill="#002eff"/>
<rect x="317.56" y="108.66" width="6.14" height="6.15" fill="#001aff"/>
<rect x="322.50" y="108.66" width="6.14" height="6.15" fill="#006bff"/>
<rect x="327.44" y="108.66" width="6.14" height="6.15" fill="#00c7ff"/>
<rect x="332.38" y="108.66" width="6.14" height="6.15" fill="#00c7ff"/>
<rect x="337.31" y="108.66" width="6.14" height="6.15" fill="#0005ff"/>
<rect x="342.25" y="108.66" width="6.14" height="6.15" fill="#fa0000"/>
<rect x="347.19" y="108.66" width="6.14" height="6.15" fill="#9e0000"/>
<rect x="352.12" y="108.66" width="6.14" height="6.15" fill="#0061ff"/>
<rect x="357.06" y="108.66" width="4.94" height="6.15" fill="#0080ff"/>
<rect x="243.50" y="113.61" width="6.14" height="6.15" fill="#0000cc"/>
<rect x="248.44" y="113.61" width="6.14" height="6.15" fill="#0000cc"/>
<rect x="253.38" y="113.61" width="6.14" height="6.15" fill="#0000cc"/>
<rect x="258.31" y="113.61" width="6.14" height="6.15" fill="#0000c2"/>
<rect x="263.25" y="113.61" width="6.14" height="6.15" fill="#0000e0"/>
<rect x="268.19" y="113.61" width="6.14" height="6.15" fill="#0000cc"/>
<rect x="273.12" y="113.61" width="6.14" height="6.15" fill="#0000c2"/>
<rect x="278.06" y="113.61" width="6.14" height="6.15" fill="#0000d6"/>
<rect x="283.00" y="113.61" width="6.14" height="6.15" fill="#0000e0"/>
<rect x="287.94" y="113.61" width="6.14" height="6.15" fill="#0000cc"/>
<rect x="292.88" y="113.61" width="6.14" height="6.15" fill="#0000cc"/>
<rect x="297.81" y="113.61" width="6.14" height="6.15" fill="#0000d6"/>
<rect x="302.75" y="113.61" width="6.14" height="6.15" fill="#80ff80"/>
<rect x="307.69" y="113.61" width="6.14" height="6.15" fill="#1affe5"/>
<rect x="312.62" y="113.61" width="6.14" height="6.15" fill="#05fffa"/>
<rect x="317.56" y="113.61" width="6.14" height="6.15" fill="#00faff"/>
<rect x="322.50" y="113.61" width="6.14" height="6.15" fill="#ff9e00"/>
<rect x="327.44" y="113.61" width="6.14" height="6.15" fill="#00faff"/>
<rect x="332.38" y="113.61" width="6.14" height="6.15" fill="#b3ff4c"/>
<rect x="337.31" y="113.61" width="6.14" height="6.15" fill="#00c7ff"/>
<rect x="342.25" y="113.61" width="6.14" height="6.15" fill="#0061ff"/>
<rect x="347.19" y="113.61" width="6.14" height="6.15" fill="#0061ff"/>
<rect x="352.12" y="113.61" width="6.14" height="6.15" fill="#800000"/>
<rect x="357.06" y="113.61" width="4.94" height="6.15" fill="#80ff80"/>
<rect x="243.50" y="118.55" width="6.14" height="4.95" fill="#0000e0"/>
<rect x="248.44" y="118.55" width="6.14" height="4.95" fill="#0000e0"/>
<rect x="253.38" y="118.55" width="6.14" height="4.95" fill="#0000cc"/>
<rect x="258.31" y="118.55" width="6.14" height="4.95" fill="#0000cc"/>
<rect x="263.25" y="118.55" width="6.14" height="4.95" fill="#0000cc"/>
<rect x="268.19" y="118.55" width="6.14" height="4.95" fill="#0000cc"/>
<rect x="273.12" y="118.55" width="6.14" height="4.95" fill="#0000d6"/>
<rect x="278.06" y="118.55" width="6.14" height="4.95" fill="#0000cc"/>
<rect x="283.00" y="118.55" width="6.14" height="4.95" fill="#0000d6"/>
<rect x="287.94" y="118.55" width="6.14" height="4.95" fill="#0000c2"/>
<rect x="292.88" y="118.55" width="6.14" height="4.95" fill="#0000cc"/>
<rect x="297.81" y="118.55" width="6.14" height="4.95" fill="#0000d6"/>
<rect x="302.75" y="118.55" width="6.14" height="4.95" fill="#00faff"/>
<rect x="307.69" y="118.55" width="6.14" height="4.95" fill="#009eff"/>
<rect x="312.62" y="118.55" width="6.14" height="4.95" fill="#00c7ff"/>
<rect x="317.56" y="118.55" width="6.14" height="4.95" fill="#00d1ff"/>
<rect x="322.50" y="118.55" width="6.14" height="4.95" fill="#00faff"/>
<rect x="327.44" y="118.55" width="6.14" height="4.95" fill="#00e5ff"/>
<rect x="332.38" y="118.55" width="6.14" height="4.95" fill="#00faff"/>
<rect x="337.31" y="118.55" width="6.14" height="4.95" fill="#00b2ff"/>
<rect x="342.25" y="118.55" width="6.14" height="4.95" fill="#0080ff"/>
<rect x="347.19" y="118.55" width="6.14" height="4.95" fill="#0080ff"/>
<rect x="352.12" y="118.55" width="6.14" height="4.95" fill="#80ff80"/>
<rect x="357.06" y="118.55" width="4.94" height="4.95" fill="#800000"/>
</g>
<defs><linearGradient id="jet" x1="0" y1="1" x2="0" y2="0">
<stop offset="0.000" stop-color="#000080"/>
<stop offset="0.025" stop-color="#000099"/>
<stop offset="0.050" stop-color="#0000b2"/>
<stop offset="0.075" stop-color="#0000cc"/>
<stop offset="0.100" stop-color="#0000e6"/>
<stop offset="0.125" stop-color="#0000ff"/>
<stop offset="0.150" stop-color="#001aff"/>
<stop offset="0.175" stop-color="#0033ff"/>
<stop offset="0.200" stop-color="#004dff"/>
<stop offset="0.225" stop-color="#0066ff"/>
<stop offset="0.250" stop-color="#0080ff"/>
<stop offset="0.275" stop-color="#0099ff"/>
<stop offset="0.300" stop-color="#00b2ff"/>
<stop offset="0.325" stop-color="#00ccff"/>
<stop offset="0.350" stop-color="#00e5ff"/>
<stop offset="0.375" stop-color="#00ffff"/>
<stop offset="0.400" stop-color="#1affe5"/>
<stop offset="0.425" stop-color="#33ffcc"/>
<stop offset="0.450" stop-color="#4dffb2"/>
<stop offset="0.475" stop-color="#66ff99"/>
<stop offset="0.500" stop-color="#80ff80"/>
<stop offset="0.525" stop-color="#99ff66"/>
<stop offset="0.550" stop-color="#b3ff4c"/>
<stop offset="0.575" stop-color="#ccff33"/>
<stop offset="0.600" stop-color="#e5ff1a"/>
<stop offset="0.625" stop-color="#ffff00"/>
<stop offset="0.650" stop-color="#ffe500"/>
<stop offset="0.675" stop-color="#ffcc00"/>
<stop offset="0.700" stop-color="#ffb300"/>
<stop offset="0.725" stop-color="#ff9900"/>
<stop offset="0.750" stop-color="#ff8000"/>
<stop offset="0.775" stop-color="#ff6600"/>
<stop offset="0.800" stop-color="#ff4c00"/>
<stop offset="0.825" stop-color="#ff3300"/>
<stop offset="0.850" stop-color="#ff1a00"/>
<stop offset="0.875" stop-color="#ff0000"/>
<stop offset="0.900" stop-color="#e50000"/>
<stop offset="0.925" stop-color="#cc0000"/>
<stop offset="0.950" stop-color="#b30000"/>
<stop offset="0.975" stop-color="#990000"/>
<stop offset="1.000" stop-color="#800000"/>
</linearGradient></defs>
<rect x="366.3" y="4.8" width="5" height="118.8" fill="url(#jet)"/>
<text x="373.8" y="7.00" font-size="4.1" class="b" fill="#222">1</text>
<text x="373.8" y="19.00" font-size="4.1" class="b" fill="#222">0.9</text>
<text x="373.8" y="31.00" font-size="4.1" class="b" fill="#222">0.8</text>
<text x="373.8" y="43.00" font-size="4.1" class="b" fill="#222">0.7</text>
<text x="373.8" y="55.00" font-size="4.1" class="b" fill="#222">0.6</text>
<text x="373.8" y="67.00" font-size="4.1" class="b" fill="#222">0.5</text>
<text x="373.8" y="79.00" font-size="4.1" class="b" fill="#222">0.4</text>
<text x="373.8" y="91.00" font-size="4.1" class="b" fill="#222">0.3</text>
<text x="373.8" y="103.00" font-size="4.1" class="b" fill="#222">0.2</text>
<text x="373.8" y="115.00" font-size="4.1" class="b" fill="#222">0.1</text>
<text x="373.8" y="127.00" font-size="4.1" class="b" fill="#222">0</text>
<text x="240.3" y="8.37" font-size="3.4" class="b" text-anchor="end" fill="#0a0a0a" stroke="#0a0a0a" stroke-width="0.12">accordion</text>
<text x="240.3" y="13.32" font-size="3.4" class="b" text-anchor="end" fill="#0a0a0a" stroke="#0a0a0a" stroke-width="0.12">banjo</text>
<text x="240.3" y="18.26" font-size="3.4" class="b" text-anchor="end" fill="#0a0a0a" stroke="#0a0a0a" stroke-width="0.12">cello</text>
<text x="240.3" y="23.21" font-size="3.4" class="b" text-anchor="end" fill="#0a0a0a" stroke="#0a0a0a" stroke-width="0.12">bagpipe</text>
<text x="240.3" y="28.16" font-size="3.4" class="b" text-anchor="end" fill="#0a0a0a" stroke="#0a0a0a" stroke-width="0.12">drum set</text>
<text x="240.3" y="33.10" font-size="3.4" class="b" text-anchor="end" fill="#0a0a0a" stroke="#0a0a0a" stroke-width="0.12">flute</text>
<text x="240.3" y="38.05" font-size="3.4" class="b" text-anchor="end" fill="#0a0a0a" stroke="#0a0a0a" stroke-width="0.12">clarinet</text>
<text x="240.3" y="42.99" font-size="3.4" class="b" text-anchor="end" fill="#0a0a0a" stroke="#0a0a0a" stroke-width="0.12">synthesizer</text>
<text x="240.3" y="47.94" font-size="3.4" class="b" text-anchor="end" fill="#0a0a0a" stroke="#0a0a0a" stroke-width="0.12">tambourine</text>
<text x="240.3" y="52.89" font-size="3.4" class="b" text-anchor="end" fill="#0a0a0a" stroke="#0a0a0a" stroke-width="0.12">triangle</text>
<text x="240.3" y="57.83" font-size="3.4" class="b" text-anchor="end" fill="#0a0a0a" stroke="#0a0a0a" stroke-width="0.12">drum</text>
<text x="240.3" y="62.78" font-size="3.4" class="b" text-anchor="end" fill="#0a0a0a" stroke="#0a0a0a" stroke-width="0.12">trumpet</text>
<text x="240.3" y="67.72" font-size="3.4" class="b" text-anchor="end" fill="#0a0a0a" stroke="#0a0a0a" stroke-width="0.12">motorbike</text>
<text x="240.3" y="72.67" font-size="3.4" class="b" text-anchor="end" fill="#0a0a0a" stroke="#0a0a0a" stroke-width="0.12">trailer</text>
<text x="240.3" y="77.61" font-size="3.4" class="b" text-anchor="end" fill="#0a0a0a" stroke="#0a0a0a" stroke-width="0.12">helicopter</text>
<text x="240.3" y="82.56" font-size="3.4" class="b" text-anchor="end" fill="#0a0a0a" stroke="#0a0a0a" stroke-width="0.12">hovercraft</text>
<text x="240.3" y="87.51" font-size="3.4" class="b" text-anchor="end" fill="#0a0a0a" stroke="#0a0a0a" stroke-width="0.12">jeep</text>
<text x="240.3" y="92.45" font-size="3.4" class="b" text-anchor="end" fill="#0a0a0a" stroke="#0a0a0a" stroke-width="0.12">carriage</text>
<text x="240.3" y="97.40" font-size="3.4" class="b" text-anchor="end" fill="#0a0a0a" stroke="#0a0a0a" stroke-width="0.12">motorbike</text>
<text x="240.3" y="102.34" font-size="3.4" class="b" text-anchor="end" fill="#0a0a0a" stroke="#0a0a0a" stroke-width="0.12">rocket</text>
<text x="240.3" y="107.29" font-size="3.4" class="b" text-anchor="end" fill="#0a0a0a" stroke="#0a0a0a" stroke-width="0.12">skateboard</text>
<text x="240.3" y="112.24" font-size="3.4" class="b" text-anchor="end" fill="#0a0a0a" stroke="#0a0a0a" stroke-width="0.12">kick scooter</text>
<text x="240.3" y="117.18" font-size="3.4" class="b" text-anchor="end" fill="#0a0a0a" stroke="#0a0a0a" stroke-width="0.12">taxi</text>
<text x="240.3" y="122.13" font-size="3.4" class="b" text-anchor="end" fill="#0a0a0a" stroke="#0a0a0a" stroke-width="0.12">tram</text>
<text transform="translate(247.07,124.5) rotate(-90)" font-size="3.6" class="b" text-anchor="end" fill="#0a0a0a" stroke="#0a0a0a" stroke-width="0.12">accordion</text>
<text transform="translate(252.01,124.5) rotate(-90)" font-size="3.6" class="b" text-anchor="end" fill="#0a0a0a" stroke="#0a0a0a" stroke-width="0.12">banjo</text>
<text transform="translate(256.94,124.5) rotate(-90)" font-size="3.6" class="b" text-anchor="end" fill="#0a0a0a" stroke="#0a0a0a" stroke-width="0.12">cello</text>
<text transform="translate(261.88,124.5) rotate(-90)" font-size="3.6" class="b" text-anchor="end" fill="#0a0a0a" stroke="#0a0a0a" stroke-width="0.12">bagpipe</text>
<text transform="translate(266.82,124.5) rotate(-90)" font-size="3.6" class="b" text-anchor="end" fill="#0a0a0a" stroke="#0a0a0a" stroke-width="0.12">drum set</text>
<text transform="translate(271.76,124.5) rotate(-90)" font-size="3.6" class="b" text-anchor="end" fill="#0a0a0a" stroke="#0a0a0a" stroke-width="0.12">flute</text>
<text transform="translate(276.69,124.5) rotate(-90)" font-size="3.6" class="b" text-anchor="end" fill="#0a0a0a" stroke="#0a0a0a" stroke-width="0.12">clarinet</text>
<text transform="translate(281.63,124.5) rotate(-90)" font-size="3.6" class="b" text-anchor="end" fill="#0a0a0a" stroke="#0a0a0a" stroke-width="0.12">synthesizer</text>
<text transform="translate(286.57,124.5) rotate(-90)" font-size="3.6" class="b" text-anchor="end" fill="#0a0a0a" stroke="#0a0a0a" stroke-width="0.12">tambourine</text>
<text transform="translate(291.51,124.5) rotate(-90)" font-size="3.6" class="b" text-anchor="end" fill="#0a0a0a" stroke="#0a0a0a" stroke-width="0.12">triangle</text>
<text transform="translate(296.44,124.5) rotate(-90)" font-size="3.6" class="b" text-anchor="end" fill="#0a0a0a" stroke="#0a0a0a" stroke-width="0.12">drum</text>
<text transform="translate(301.38,124.5) rotate(-90)" font-size="3.6" class="b" text-anchor="end" fill="#0a0a0a" stroke="#0a0a0a" stroke-width="0.12">trumpet</text>
<text transform="translate(306.32,124.5) rotate(-90)" font-size="3.6" class="b" text-anchor="end" fill="#0a0a0a" stroke="#0a0a0a" stroke-width="0.12">motorbike</text>
<text transform="translate(311.26,124.5) rotate(-90)" font-size="3.6" class="b" text-anchor="end" fill="#0a0a0a" stroke="#0a0a0a" stroke-width="0.12">trailer</text>
<text transform="translate(316.19,124.5) rotate(-90)" font-size="3.6" class="b" text-anchor="end" fill="#0a0a0a" stroke="#0a0a0a" stroke-width="0.12">helicopter</text>
<text transform="translate(321.13,124.5) rotate(-90)" font-size="3.6" class="b" text-anchor="end" fill="#0a0a0a" stroke="#0a0a0a" stroke-width="0.12">hovercraft</text>
<text transform="translate(326.07,124.5) rotate(-90)" font-size="3.6" class="b" text-anchor="end" fill="#0a0a0a" stroke="#0a0a0a" stroke-width="0.12">jeep</text>
<text transform="translate(331.01,124.5) rotate(-90)" font-size="3.6" class="b" text-anchor="end" fill="#0a0a0a" stroke="#0a0a0a" stroke-width="0.12">carriage</text>
<text transform="translate(335.94,124.5) rotate(-90)" font-size="3.6" class="b" text-anchor="end" fill="#0a0a0a" stroke="#0a0a0a" stroke-width="0.12">motorbike</text>
<text transform="translate(340.88,124.5) rotate(-90)" font-size="3.6" class="b" text-anchor="end" fill="#0a0a0a" stroke="#0a0a0a" stroke-width="0.12">rocket</text>
<text transform="translate(345.82,124.5) rotate(-90)" font-size="3.6" class="b" text-anchor="end" fill="#0a0a0a" stroke="#0a0a0a" stroke-width="0.12">skateboard</text>
<text transform="translate(350.76,124.5) rotate(-90)" font-size="3.6" class="b" text-anchor="end" fill="#0a0a0a" stroke="#0a0a0a" stroke-width="0.12">kick scooter</text>
<text transform="translate(355.69,124.5) rotate(-90)" font-size="3.6" class="b" text-anchor="end" fill="#0a0a0a" stroke="#0a0a0a" stroke-width="0.12">taxi</text>
<text transform="translate(360.63,124.5) rotate(-90)" font-size="3.6" class="b" text-anchor="end" fill="#0a0a0a" stroke="#0a0a0a" stroke-width="0.12">tram</text>
<text x="205.1" y="7.4" font-size="7.8" class="b" fill="#0a0a0a" stroke="#0a0a0a" stroke-width="0.25">B</text>
<rect x="246.4" y="146.9" width="55.1" height="1.3" fill="#4a4a4a"/>
<rect x="307" y="146.9" width="54.8" height="1.3" fill="#4a4a4a"/>
<text x="273.2" y="158.4" font-size="5.7" text-anchor="middle" fill="#111" textLength="49" lengthAdjust="spacingAndGlyphs">Musical instruments</text>
<text x="332.6" y="158.4" font-size="5.7" text-anchor="middle" fill="#111" textLength="20.5" lengthAdjust="spacingAndGlyphs">Vehicles</text>
<g id="panelA">
<text x="2.85" y="7.45" font-size="7.8" class="b" fill="#0a0a0a" stroke="#0a0a0a" stroke-width="0.25">A</text>
<rect x="19.4" y="14" width="1.2" height="124.4" fill="#4c4c4c"/>
<rect x="19.4" y="137.2" width="75" height="1.2" fill="#3a3a3a"/>
<rect x="96.9" y="137.2" width="1.9" height="1.2" fill="#3a3a3a"/><rect x="100.6" y="137.2" width="3.1" height="1.2" fill="#3a3a3a"/><rect x="105.6" y="137.2" width="3.1" height="1.2" fill="#3a3a3a"/><rect x="111.2" y="137.2" width="3.8" height="1.2" fill="#3a3a3a"/>
<rect x="119.4" y="137.2" width="74.8" height="1.2" fill="#3a3a3a"/>
<text x="11" y="19.8" font-size="4.8" fill="#484848" textLength="6.5" lengthAdjust="spacingAndGlyphs">0.3</text>
<text x="16.2" y="70.2" font-size="4.8" fill="#484848">0</text>
<text x="8.8" y="134.3" font-size="4.8" fill="#484848" textLength="9.6" lengthAdjust="spacingAndGlyphs">-0.4</text>
<text x="21" y="144.5" font-size="4.8" fill="#484848" textLength="9.6" lengthAdjust="spacingAndGlyphs">-0.3</text>
<text x="52.5" y="144.5" font-size="4.8" fill="#484848" textLength="9.6" lengthAdjust="spacingAndGlyphs">-0.2</text>
<text x="154.2" y="144.8" font-size="4.8" fill="#484848" textLength="6.8" lengthAdjust="spacingAndGlyphs">0.4</text>
<text x="179.8" y="144.8" font-size="4.8" fill="#484848" textLength="6.9" lengthAdjust="spacingAndGlyphs">0.5</text>
<text y="152.2" font-size="7.2" fill="#1a1a1a" stroke="#1a1a1a" stroke-width="0.15" lengthAdjust="spacingAndGlyphs"><tspan x="61.8" textLength="14.2">MDS</tspan> <tspan x="79.8" textLength="33.6">dimension</tspan> <tspan x="116.3" textLength="36.4">coordinate</tspan> <tspan x="155.6" textLength="3.6">1</tspan></text>
<text transform="translate(12.2,122.9) rotate(-90)" y="0" font-size="7.2" fill="#1a1a1a" stroke="#1a1a1a" stroke-width="0.15" lengthAdjust="spacingAndGlyphs"><tspan x="0" textLength="14.2">MDS</tspan> <tspan x="17.9" textLength="33.4">dimension</tspan> <tspan x="54.2" textLength="36.2">coordinate</tspan> <tspan x="93.2" textLength="3.6">2</tspan></text>
<defs><filter id="soft" x="-5%" y="-5%" width="110%" height="110%"><feGaussianBlur stdDeviation="0.3"/></filter></defs>
<g id="thumbs" filter="url(#soft)" stroke-linecap="round" stroke-linejoin="round">
<!-- helicopter -->
<g id="helicopter">
<line x1="40.1" y1="45.4" x2="53.6" y2="53.6" stroke="#262626" stroke-width="1"/>
<line x1="46.6" y1="56.5" x2="39.3" y2="56.2" stroke="#6a6a6a" stroke-width="0.9"/>
<line x1="39.5" y1="54.8" x2="39.7" y2="58" stroke="#444" stroke-width="0.9"/>
<path d="M46 56 L52 53.6 L57.7 56 L56 57.9 L49 58.3Z" fill="#707070"/>
<path d="M53.6 54.3 L57.7 56 L56 57.8 L53.2 57.2Z" fill="#262626"/>
<path d="M48.6 55.4 L52.4 54.4 L52.6 56.4 L48.8 56.8Z" fill="#3f3f3f"/>
<line x1="49" y1="60" x2="55.6" y2="60" stroke="#a4a4a4" stroke-width="0.6"/>
<line x1="50.4" y1="58.2" x2="50" y2="60" stroke="#a4a4a4" stroke-width="0.5"/><line x1="54" y1="58.2" x2="54.4" y2="60" stroke="#a4a4a4" stroke-width="0.5"/>
</g>
<!-- kick scooter -->
<g id="kickscooter">
<line x1="76.1" y1="60.6" x2="77.5" y2="68" stroke="#8a8f8a" stroke-width="0.9"/>
<line x1="77.3" y1="66.6" x2="77.8" y2="71.6" stroke="#4a4f4a" stroke-width="1.3"/>
<line x1="75.4" y1="60.5" x2="76.9" y2="60.1" stroke="#777" stroke-width="0.8"/>
<line x1="67.2" y1="73.4" x2="75.6" y2="72.8" stroke="#262626" stroke-width="1.3"/>
<circle cx="65.4" cy="73.1" r="1.8" fill="#b9bdb9" stroke="#3a3a3a" stroke-width="1"/>
<circle cx="78" cy="72.1" r="1.6" fill="#b9bdb9" stroke="#4a4a4a" stroke-width="0.9"/>
</g>
<!-- cruiser motorbike -->
<g id="motorbike1">
<circle cx="31.8" cy="84.7" r="2.6" fill="#b5b5b5" stroke="#1e1e1e" stroke-width="1.4"/>
<circle cx="48.7" cy="84.9" r="2.7" fill="#b5b5b5" stroke="#1e1e1e" stroke-width="1.4"/>
<path d="M29.6 81.4 Q35 79.4 40 80 L44.2 79.2 L45.4 81 L41 82.6 L33 83Z" fill="#262626"/>
<path d="M35.6 82.2 L43.6 81.8 L43 86.2 L36.4 86.6Z" fill="#5a5a5a"/>
<path d="M37.4 83 L41.6 82.8 L41.2 85.4 L37.8 85.6Z" fill="#2e2e2e"/>
<line x1="32.6" y1="86.6" x2="42.6" y2="86.8" stroke="#8a8a8a" stroke-width="0.7"/>
<line x1="43.8" y1="77.6" x2="48.7" y2="84.9" stroke="#2c2c2c" stroke-width="1"/>
<line x1="42" y1="77.3" x2="44.8" y2="77" stroke="#1e1e1e" stroke-width="1"/>
</g>
<!-- skateboard -->
<g id="skateboard">
<path d="M73.3 79.3 L100 78.2" stroke="#161616" stroke-width="1.6" fill="none"/>
<path d="M99.6 78.2 L103.6 77.3" stroke="#dc8c4c" stroke-width="1.4" fill="none"/>
<circle cx="79" cy="81.3" r="1.1" fill="#e6e6e6" stroke="#999" stroke-width="0.4"/>
<circle cx="93.2" cy="81.2" r="1.1" fill="#e6e6e6" stroke="#999" stroke-width="0.4"/>
<rect x="77.6" y="79.8" width="3" height="0.8" fill="#555"/><rect x="91.8" y="79.7" width="3" height="0.8" fill="#555"/>
</g>
<!-- ambulance -->
<g id="ambulance">
<path d="M53.2 86.8 L62 84.5 L72.9 85.8 L72.9 93.4 L62.4 96.3 L53.2 93.6Z" fill="#f5f1ef" stroke="#a5a5a5" stroke-width="0.35"/>
<path d="M53.2 89.6 L62.2 91.4 L72.9 88.9" stroke="#c02034" stroke-width="1.1" fill="none"/>
<path d="M53.2 92.4 L62.3 94.6 L72.9 92" stroke="#c02034" stroke-width="0.9" fill="none"/>
<path d="M64 86.7 L72.2 86.7 L72.2 88 L64 89.6Z" fill="#30303a"/>
<path d="M54.2 87.4 L60.6 88.6 L60.6 90.2 L54.2 88.9Z" fill="#4a4e5a"/>
<circle cx="61.1" cy="95.7" r="1.4" fill="#1e1e1e"/><circle cx="70.4" cy="94.2" r="1.4" fill="#1e1e1e"/>
</g>
<!-- orange dirt bike -->
<g id="motorbike2">
<circle cx="26.9" cy="99" r="2.7" fill="#c9c9c9" stroke="#2c2c2c" stroke-width="1.2"/>
<circle cx="37.6" cy="101.3" r="2.7" fill="#c9c9c9" stroke="#2c2c2c" stroke-width="1.2"/>
<path d="M29.8 94.6 L34 92.6 L36.4 94.8 L35 98.2 L31 98.4Z" fill="#d8701e"/>
<path d="M25.6 94.6 L30.6 94.4 L30.8 95.8 L27 96Z" fill="#c8641a"/>
<line x1="27" y1="93.8" x2="32" y2="94" stroke="#2c2c2c" stroke-width="1"/>
<line x1="34.9" y1="91.8" x2="37.6" y2="101.3" stroke="#4a4a4a" stroke-width="0.9"/>
<line x1="33.6" y1="91.4" x2="36" y2="91.2" stroke="#2c2c2c" stroke-width="0.9"/>
<path d="M30.6 98 L34.6 99 L33.6 100.6 L30 99.6Z" fill="#3c3c3c"/>
<line x1="26.9" y1="99" x2="31" y2="98.6" stroke="#555" stroke-width="0.7"/>
</g>
<!-- carriage -->
<g id="carriage">
<path d="M84.2 89 Q88.6 88 93.2 88.8 L93.4 98.4 L84.4 98.6Z" fill="#2a2d40"/>
<rect x="85.6" y="90.2" width="2.8" height="3.8" fill="#7d8496"/><rect x="89.4" y="90.2" width="2.8" height="3.8" fill="#69708a"/>
<path d="M76.6 92.6 Q79 96.8 84.4 96.6" stroke="#1e1e1e" stroke-width="1.1" fill="none"/>
<path d="M78 91 L80.6 90.4 L81 93.4" stroke="#1e1e1e" stroke-width="1" fill="none"/>
<circle cx="81.2" cy="100" r="3.1" fill="none" stroke="#2a2a2a" stroke-width="1"/>
<circle cx="94.7" cy="98.9" r="3.2" fill="none" stroke="#2a2a2a" stroke-width="1"/>
<path d="M78.1 100H84.3M81.2 96.9V103.1M79 97.8L83.4 102.2M83.4 97.8L79 102.2" stroke="#777" stroke-width="0.35"/>
<path d="M91.5 98.9H97.9M94.7 95.7V102.1M92.4 96.6L97 101.2M97 96.6L92.4 101.2" stroke="#777" stroke-width="0.35"/>
<path d="M77 98 Q81 93.6 85.4 98" stroke="#1e1e1e" stroke-width="0.8" fill="none"/>
<path d="M90.6 97 Q95 92.6 99 97.4" stroke="#1e1e1e" stroke-width="0.8" fill="none"/>
</g>
<!-- taxi -->
<g id="taxi">
<path d="M34.4 108.2 L40 105.6 L45 103.2 L54 103.6 L59.2 107 L59.2 110.6 L52 112.6 L38 112.6 L34.4 111Z" fill="#e8b91e"/>
<path d="M42.6 105.8 L45.8 103.9 L53 104.3 L56 106.8 L43.6 107.2Z" fill="#333"/>
<rect x="49.6" y="101.7" width="3" height="1.4" fill="#3f5a3a"/>
<path d="M34.4 110.6 L38 112.4 L43 112.9" stroke="#333" stroke-width="0.9" fill="none"/>
<circle cx="47.2" cy="112.3" r="1.9" fill="#222"/><circle cx="47.2" cy="112.3" r="0.8" fill="#aaa"/>
<circle cx="56.6" cy="111" r="1.4" fill="#222"/>
<path d="M35 109 L39.6 109.8" stroke="#7a5a10" stroke-width="0.5"/>
</g>
<!-- rocket -->
<g id="rocket">
<line x1="60.4" y1="110.5" x2="82.6" y2="110.5" stroke="#b4b4b4" stroke-width="1.3"/>
<rect x="60.2" y="109.9" width="2" height="1.2" fill="#6aa66a"/>
<rect x="63.6" y="109.6" width="2.4" height="1.8" fill="#4a4a4a"/>
<circle cx="68" cy="110.5" r="0.9" fill="#7a7a9a"/>
<rect x="71" y="109.8" width="1.4" height="1.4" fill="#111"/>
<rect x="75.2" y="109.8" width="1.4" height="1.4" fill="#111"/>
</g>
<!-- tram -->
<g id="tram">
<path d="M24.4 124.2 Q24.4 122.8 26 122.8 L45.6 123.4 Q47 123.5 47 125 L47 132.2 Q47 133.6 45.4 133.6 L26 133.9 Q24.4 133.9 24.4 132.5Z" fill="#3a3a3a"/>
<path d="M25.4 124.4 L46 125 L46 127.8 L25.4 127.8Z" fill="#80858a"/>
<path d="M28.4 124.5V127.8M32.4 124.6V127.8M36.4 124.7V127.8M40.4 124.8V127.8M43.6 124.9V127.8" stroke="#2e2e2e" stroke-width="0.55"/>
<path d="M24.4 128.3 L47 128.3 L47 131.7 L24.4 132Z" fill="#dc622a"/>
<rect x="33" y="128.8" width="6.4" height="2.6" fill="#9e431c"/>
<rect x="24.8" y="128.9" width="3" height="2.4" fill="#b5b5b5"/>
<path d="M25.8 122.8 L27.8 119.9 L30.2 122.9" stroke="#555" stroke-width="0.5" fill="none"/>
</g>
<!-- jeep -->
<g id="jeep">
<path d="M59.2 120.8 Q66 119.6 72.2 120.4 L73.2 128.6 L73 131.4 L60 132.4 L59 129Z" fill="#262626"/>
<path d="M60.2 122 L65 121.6 L65.2 125.6 L60.4 126Z" fill="#6a6a6a"/><path d="M66.4 121.5 L71.4 121.4 L71.9 125.3 L66.6 125.5Z" fill="#4a4a4a"/>
<path d="M50.8 126 L59 124.8 L59.4 130.8 L50.8 130.6Z" fill="#3a3a3a"/>
<path d="M51.2 125.8 L58.8 124.6" stroke="#9a9a9a" stroke-width="0.6"/>
<rect x="50.8" y="127" width="3.4" height="1.5" fill="#e2e2e2"/>
<rect x="50.2" y="129.6" width="7.4" height="1.1" fill="#8a8a8a"/>
<circle cx="53.6" cy="130.4" r="2.6" fill="#1a1a1a"/><circle cx="53.6" cy="130.4" r="1" fill="#9a9a9a"/>
<circle cx="63.2" cy="131.8" r="3" fill="#1a1a1a"/><circle cx="63.2" cy="131.8" r="1.2" fill="#9a9a9a"/>
<path d="M69 131.6 L73 131.2 L73 129.6 L69.4 129.8Z" fill="#555"/>
</g>
<!-- hovercraft -->
<g id="hovercraft">
<path d="M80 123 Q79.6 125 82 127.4 L87.4 132.6 Q88.6 133.8 91 133.8 L100.6 133.6 Q103 133.4 104.4 131.6 L105.8 129.4 L105.4 127.8 L100 130.8 L90.6 130.8 L82.4 121.6Z" fill="#0e0e0e"/>
<path d="M82.4 121.6 L91.6 119.6 L97 122.6 L105.4 127.8 L100 130.8 L90.6 130.8Z" fill="#f3f3f3" stroke="#555" stroke-width="0.3"/>
<path d="M84 120.6 L86.4 118.6 M88.2 120 L89.8 117.8 L91.2 119.6 M92.6 121.2 L94.2 119.6" stroke="#2a2a2a" stroke-width="0.9" fill="none"/>
<path d="M86 123.6 L96.4 128.8 M88.8 122.2 L99.6 127" stroke="#8a8a8a" stroke-width="0.5"/>
<path d="M96.4 125.4 L99.6 126.6 L99.2 127.8 L96 126.6Z" fill="#222"/>
</g>
<!-- triangle -->
<g id="triangle">
<path d="M135.2 21.9 L127.5 31.7 L139 33 M135.2 21.9 L139.8 31" stroke="#8c8c8c" stroke-width="0.7" fill="none"/>
<line x1="132.5" y1="30" x2="138.1" y2="43" stroke="#8a8a8a" stroke-width="0.6"/>
</g>
<!-- clarinet -->
<g id="clarinet">
<line x1="154.4" y1="33.6" x2="164.4" y2="50.6" stroke="#262626" stroke-width="0.95"/>
<line x1="163.7" y1="49.4" x2="165.2" y2="52" stroke="#151515" stroke-width="2.6"/>
</g>
<!-- flute -->
<line id="flute" x1="158.8" y1="32.8" x2="184.7" y2="44" stroke="#93826f" stroke-width="1.2"/>
<!-- tambourine -->
<g id="tambourine" transform="rotate(14 131.8 53.8)">
<ellipse cx="131.2" cy="53.9" rx="4.3" ry="6.7" fill="#a85e22"/>
<ellipse cx="131.7" cy="53.8" rx="4" ry="6.5" fill="#cf9440"/>
<ellipse cx="132.5" cy="53.8" rx="2.9" ry="5.2" fill="#f3dcc0"/>
<path d="M128.4 50.6v1.8M128 54.6v1.8M129 58v1.4" stroke="#6e3c12" stroke-width="0.8"/>
</g>
<!-- trumpet -->
<g id="trumpet">
<line x1="144.8" y1="58" x2="161" y2="58" stroke="#ad842c" stroke-width="1.3"/>
<path d="M159.6 57.3 L164 55.4 L164 60.6 L159.6 58.7Z" fill="#b58c30"/>
<rect x="150" y="56.4" width="8.4" height="5" rx="1.6" fill="none" stroke="#a27a26" stroke-width="1.1"/>
<path d="M152 55V58M154.2 55V58M156.4 55V58" stroke="#94701f" stroke-width="1"/>
</g>
<!-- bagpipe -->
<g id="bagpipe">
<path d="M177.6 52.1 L177.8 66.8" stroke="#2a2a2a" stroke-width="0.9"/>
<path d="M177.6 52.1 L183.7 57.7 L180.3 66.8" stroke="#3a3a3a" stroke-width="0.6" fill="none"/>
<path d="M169.6 66.3 L171.7 61.7 M172.2 66 L174 60.7 M174.6 66 L175.7 59.7 M180.1 66.8 L182.4 61.7" stroke="#333" stroke-width="0.9"/>
<path d="M170.4 64.6 L171 63.2 M172.8 64.2 L173.3 62.7 M175 63.6 L175.3 62 M180.8 65 L181.5 63.5" stroke="#e8efe8" stroke-width="0.9"/>
<path d="M168.8 69.4 Q169 67.2 172 67.3 L180.6 67 Q183.2 67.2 183.2 69.6 L182.9 71.8 Q182.4 74 179 74 L172 74 Q169 73.6 168.8 71Z" fill="#9c0f1e"/>
<path d="M171 69.2 L180.6 68.8" stroke="#cf3040" stroke-width="0.9"/><path d="M173 67.4 L172.4 73.8 M178.6 67.2 L179 73.8" stroke="#e9d9d9" stroke-width="0.4"/>
<path d="M179.8 73 L179.3 76.6" stroke="#777" stroke-width="0.6"/>
</g>
<!-- drum -->
<g id="drum">
<path d="M128.8 67.4 L130 76.4 Q135.8 80.2 141.6 76.4 L142.8 67.4Z" fill="#a44e2c"/>
<path d="M130 70.4 L133 77.6 L136 71 L139 77.6 L141.8 70.6" stroke="#f1e3d6" stroke-width="0.6" fill="none"/>
<path d="M129.8 75.6 Q135.8 79.4 141.8 75.6" stroke="#cf9a44" stroke-width="0.8" fill="none"/>
<ellipse cx="135.8" cy="67.3" rx="7" ry="2.6" fill="#f4ddcc" stroke="#c9923a" stroke-width="0.8"/>
</g>
<!-- accordion -->
<g id="accordion">
<path d="M152 82.6 L156 81.4 L160 93 L157 94.6Z" fill="#dcd8cc" stroke="#2a2a2a" stroke-width="0.5"/>
<path d="M153 84.4 L156.8 83.4 M153.8 86.6 L157.6 85.6 M154.6 88.8 L158.4 87.8 M155.4 91 L159.2 90" stroke="#2a2a2a" stroke-width="0.6"/>
<path d="M156 81.4 L169.8 81.3 L170 89.4 L162.4 90.4 L160 93Z" fill="#181818"/>
<path d="M160 93 L162.2 90.2 L170 89.2 L169.6 94.8 L162 96.4 L157.4 94.6Z" fill="#85764a"/>
<path d="M163 91.4 L168.6 90.6 L168.4 93.8 L163.2 95Z" fill="#5e5232"/>
<path d="M158 84 L168 83.6" stroke="#555" stroke-width="0.5"/>
</g>
<!-- banjo -->
<g id="banjo">
<line x1="170.4" y1="77.5" x2="182.4" y2="82.6" stroke="#4a2c24" stroke-width="1"/>
<circle cx="185.9" cy="84.6" r="3.9" fill="#f6f1ef" stroke="#5c3c3c" stroke-width="1.5"/>
</g>
<!-- synthesizer -->
<g id="synth">
<path d="M134.8 97.9 L157.5 97.9 L158.9 106.1 L132.5 106.1Z" fill="#1b1b1b"/>
<path d="M133.6 102.2 L158.2 102.2 L158.7 105.3 L132.9 105.3Z" fill="#efefef"/>
<path d="M135.4 102.2v2M137.4 102.2v2M140.4 102.2v2M142.4 102.2v2M144.4 102.2v2M147.4 102.2v2M149.4 102.2v2M152.4 102.2v2M154.4 102.2v2M156.4 102.2v2" stroke="#222" stroke-width="0.7"/>
<rect x="138" y="99" width="16" height="1.6" fill="#4a4a4a"/>
</g>
<!-- cello -->
<g id="cello" transform="rotate(-8 181.4 106)">
<line x1="181.4" y1="89.4" x2="181.4" y2="99" stroke="#33201a" stroke-width="1"/>
<path d="M181.4 96.8 C177 96.8 176 100.6 178.2 103.4 C173.4 106 174 116 181.4 116 C188.8 116 189.4 106 184.6 103.4 C186.8 100.6 185.8 96.8 181.4 96.8Z" fill="#8e2c0e"/>
<path d="M183 98.4 C184.6 100 183.8 102.6 183.6 104 C186 106.6 186.2 111.6 183.6 114" stroke="#c8602e" stroke-width="1.5" fill="none"/>
<path d="M179.2 99 C178.4 101 179.2 103 179 104 C177 107 177.4 111 179 112.8" stroke="#6a1e08" stroke-width="1" fill="none"/>
<line x1="181.4" y1="97" x2="181.4" y2="110.6" stroke="#24140c" stroke-width="0.7"/>
<line x1="181.4" y1="115.8" x2="181.4" y2="117.6" stroke="#555" stroke-width="0.5"/>
</g>
<!-- drum set -->
<g id="drumset">
<path d="M139.6 111 L141.6 118 M156.6 114 L155 121 M148 108.4 L148 112 M143.6 113.4 L150.6 113.2" stroke="#b4b4c0" stroke-width="0.5"/>
<path d="M141 121.4 L139.4 124 M145.6 121 L146 124 M153.6 121.8 L156 124 M147 118 L143.4 123.6" stroke="#b9b9c4" stroke-width="0.5"/>
<ellipse cx="145.3" cy="109.2" rx="3" ry="0.8" fill="#8a8a8a"/>
<ellipse cx="152.9" cy="112.4" rx="3.1" ry="0.8" fill="#8a8a8a"/>
<line x1="145.3" y1="109.2" x2="145.3" y2="117" stroke="#999" stroke-width="0.4"/><line x1="152.9" y1="112.4" x2="153.3" y2="120" stroke="#999" stroke-width="0.4"/>
<rect x="145.6" y="111.6" width="2.8" height="2.6" rx="0.5" fill="#26264a"/><rect x="149" y="111.8" width="2.8" height="2.6" rx="0.5" fill="#26264a"/>
<ellipse cx="146.6" cy="116.2" rx="2.4" ry="1.2" fill="#b0566a"/>
<circle cx="142" cy="119.3" r="2.1" fill="#23233f"/>
<circle cx="150.1" cy="120.5" r="3.5" fill="#1c1c38"/><circle cx="150.1" cy="120.5" r="2.1" fill="#34345a"/>
</g>
</g>

</g>
<g id="panelC">
<text x="2.7" y="166.4" font-size="7.8" class="b" fill="#0a0a0a" stroke="#0a0a0a" stroke-width="0.25">C</text>
<rect x="39.6" y="169.5" width="1" height="108.5" fill="#444"/>
<rect x="39.6" y="277" width="100" height="1" fill="#444"/>
<rect x="40" y="241.2" width="99.6" height="1.1" fill="#777"/>
<rect x="38" y="170.30" width="2" height="0.8" fill="#444"/>
<text x="37.5" y="173.00" font-size="6.3" text-anchor="end" fill="#1a1a1a">0.4</text>
<rect x="38" y="188.05" width="2" height="0.8" fill="#444"/>
<text x="37.5" y="190.75" font-size="6.3" text-anchor="end" fill="#1a1a1a">0.3</text>
<rect x="38" y="205.80" width="2" height="0.8" fill="#444"/>
<text x="37.5" y="208.50" font-size="6.3" text-anchor="end" fill="#1a1a1a">0.2</text>
<rect x="38" y="223.55" width="2" height="0.8" fill="#444"/>
<text x="37.5" y="226.25" font-size="6.3" text-anchor="end" fill="#1a1a1a">0.1</text>
<rect x="38" y="241.30" width="2" height="0.8" fill="#444"/>
<text x="37.5" y="244.00" font-size="6.3" text-anchor="end" fill="#1a1a1a">0</text>
<rect x="38" y="259.05" width="2" height="0.8" fill="#444"/>
<text x="37.5" y="261.75" font-size="6.3" text-anchor="end" fill="#1a1a1a">-0.1</text>
<rect x="38" y="276.80" width="2" height="0.8" fill="#444"/>
<text x="37.5" y="279.50" font-size="6.3" text-anchor="end" fill="#1a1a1a">-0.2</text>
<rect x="50.00" y="275.4" width="0.8" height="1.8" fill="#444"/>
<text x="50.40" y="285.5" font-size="6.3" text-anchor="middle" fill="#1a1a1a">1</text>
<rect x="61.07" y="275.4" width="0.8" height="1.8" fill="#444"/>
<text x="61.47" y="285.5" font-size="6.3" text-anchor="middle" fill="#1a1a1a">2</text>
<rect x="72.14" y="275.4" width="0.8" height="1.8" fill="#444"/>
<text x="72.54" y="285.5" font-size="6.3" text-anchor="middle" fill="#1a1a1a">3</text>
<rect x="83.21" y="275.4" width="0.8" height="1.8" fill="#444"/>
<text x="83.61" y="285.5" font-size="6.3" text-anchor="middle" fill="#1a1a1a">4</text>
<rect x="94.28" y="275.4" width="0.8" height="1.8" fill="#444"/>
<text x="94.68" y="285.5" font-size="6.3" text-anchor="middle" fill="#1a1a1a">5</text>
<rect x="105.35" y="275.4" width="0.8" height="1.8" fill="#444"/>
<text x="105.75" y="285.5" font-size="6.3" text-anchor="middle" fill="#1a1a1a">6</text>
<rect x="116.42" y="275.4" width="0.8" height="1.8" fill="#444"/>
<text x="116.82" y="285.5" font-size="6.3" text-anchor="middle" fill="#1a1a1a">7</text>
<rect x="127.49" y="275.4" width="0.8" height="1.8" fill="#444"/>
<text x="127.89" y="285.5" font-size="6.3" text-anchor="middle" fill="#1a1a1a">8</text>
<line x1="40.5" y1="207.6" x2="139.6" y2="207.6" stroke="#58b95f" stroke-width="0.8" stroke-dasharray="1.2 1.3"/>
<polyline fill="none" stroke="#111" stroke-width="1.1" points="50.4,233.3 61.5,226.5 72.5,226.5 83.6,213.8 94.7,207.6 105.8,205.9 116.8,196.8 127.9,175.3"/>
<circle cx="50.4" cy="233.3" r="1.55" fill="#111"/>
<circle cx="61.5" cy="226.5" r="1.55" fill="#111"/>
<circle cx="72.5" cy="226.5" r="1.55" fill="#111"/>
<circle cx="83.6" cy="213.8" r="1.55" fill="#111"/>
<circle cx="94.7" cy="207.6" r="1.55" fill="#111"/>
<circle cx="105.8" cy="205.9" r="1.55" fill="#111"/>
<circle cx="116.8" cy="196.8" r="1.55" fill="#111"/>
<circle cx="127.9" cy="175.3" r="1.55" fill="#111"/>
<text x="45.2" y="194.6" font-size="5.6" class="b" font-style="italic" fill="#2fa852" lengthAdjust="spacingAndGlyphs">P</text>
<text x="50.2" y="197" font-size="4.9" textLength="9.2" class="b" font-style="italic" fill="#2fa852" lengthAdjust="spacingAndGlyphs">corr</text>
<text x="62.2" y="194.6" font-size="5.6" class="b" font-style="italic" fill="#2fa852" lengthAdjust="spacingAndGlyphs">=</text>
<text x="68.1" y="194.7" font-size="5.8" textLength="11.9" class="b" font-style="italic" fill="#2fa852" lengthAdjust="spacingAndGlyphs">0.05</text>
<text x="88.8" y="292.7" font-size="6.1" class="b" text-anchor="middle" fill="#111" textLength="40" lengthAdjust="spacingAndGlyphs">Layer Alexnet</text>
<text transform="translate(22.8,254.8) rotate(-90)" font-size="6.9" class="b" fill="#111" textLength="52.2" lengthAdjust="spacingAndGlyphs">Spearman correlation</text>
</g>
<g id="panelD">
<text x="167.0" y="166.1" font-size="7.8" class="b" fill="#0a0a0a" stroke="#0a0a0a" stroke-width="0.25">D</text>
<rect x="174.10" y="179.10" width="52.90" height="37.90" rx="4" ry="4" fill="#000"/>
<text x="200.9" y="176.0" font-size="6.3" class="b" text-anchor="middle" fill="#1c1c1c" textLength="36.2" lengthAdjust="spacingAndGlyphs">warning cue</text>
<circle cx="199.6" cy="196.8" r="2.4" fill="#a00018" opacity="0.55"/><circle cx="199.6" cy="196.8" r="1.25" fill="#ff1f4a"/>
<rect x="231.10" y="179.10" width="52.25" height="37.90" rx="4" ry="4" fill="#000"/>
<text x="257.8" y="176.0" font-size="6.3" class="b" text-anchor="middle" fill="#1c1c1c" textLength="16.5" lengthAdjust="spacingAndGlyphs">delay</text>
<rect x="255.35" y="195.60" width="2.5" height="2.5" fill="#fff"/>
<rect x="286.35" y="179.10" width="52.55" height="37.90" rx="4" ry="4" fill="#000"/>
<text x="312.0" y="176.0" font-size="6.3" class="b" text-anchor="middle" fill="#1c1c1c" textLength="24.9" lengthAdjust="spacingAndGlyphs">stimulus</text>
<rect x="310.85" y="195.60" width="2.5" height="2.5" fill="#fff"/>
<rect x="341.90" y="179.10" width="52.70" height="37.90" rx="4" ry="4" fill="#000"/>
<text x="368.8" y="176.0" font-size="6.3" class="b" text-anchor="middle" fill="#1c1c1c" textLength="16.5" lengthAdjust="spacingAndGlyphs">delay</text>
<rect x="366.65" y="195.60" width="2.5" height="2.5" fill="#fff"/>
<rect x="176.8" y="222.30" width="10.3" height="1.4" fill="#151515"/>
<rect x="215.0" y="222.30" width="27.7" height="1.4" fill="#151515"/>
<rect x="271.4" y="222.30" width="25.2" height="1.4" fill="#151515"/>
<rect x="325.6" y="222.30" width="26.6" height="1.4" fill="#151515"/>
<text x="200.3" y="224.7" font-size="5.8" text-anchor="middle" fill="#2a2a2a" textLength="17.6" lengthAdjust="spacingAndGlyphs">100 ms</text>
<text x="256.5" y="224.7" font-size="5.8" text-anchor="middle" fill="#2a2a2a" textLength="18.2" lengthAdjust="spacingAndGlyphs">200 ms</text>
<text x="311.3" y="224.7" font-size="5.8" text-anchor="middle" fill="#2a2a2a" textLength="17.6" lengthAdjust="spacingAndGlyphs">150 ms</text>
<text x="368.3" y="224.7" font-size="5.8" text-anchor="middle" fill="#2a2a2a" textLength="21.6" lengthAdjust="spacingAndGlyphs">8050 ms</text>
<path d="M385.4 223.0 H395.8 M392.9 220.3 l3.1 2.7 l-3.1 2.7" fill="none" stroke="#111" stroke-width="1.4" stroke-linejoin="miter"/>
</g>
<g id="stimD"><ellipse cx="327.3" cy="187.3" rx="5.6" ry="2.4" fill="#d8a481"/><path d="M322.4 188 L323.6 194.4 Q327.3 196 331 194.4 L332.2 188 Q327.3 190.6 322.4 188Z" fill="#f3e6dc"/><path d="M326 194.8 L329.5 189.2 L331 189 L327.6 195.2Z" fill="#c8321e"/><path d="M323.5 189.5 L324.8 194.8" stroke="#b5563a" stroke-width="0.8"/></g>
<g id="panelE">
<text x="167.0" y="236.0" font-size="7.8" class="b" fill="#0a0a0a" stroke="#0a0a0a" stroke-width="0.25">E</text>
<rect x="175.10" y="246.90" width="52.90" height="37.45" rx="4" ry="4" fill="#000"/>
<text x="201.9" y="243.3" font-size="6.3" class="b" text-anchor="middle" fill="#1c1c1c" textLength="36.2" lengthAdjust="spacingAndGlyphs">warning cue</text>
<circle cx="200.9" cy="264.4" r="2.4" fill="#a00018" opacity="0.55"/><circle cx="200.9" cy="264.4" r="1.25" fill="#ff1f4a"/>
<rect x="232.10" y="246.90" width="52.25" height="37.45" rx="4" ry="4" fill="#000"/>
<text x="258.8" y="243.3" font-size="6.3" class="b" text-anchor="middle" fill="#1c1c1c" textLength="16.5" lengthAdjust="spacingAndGlyphs">delay</text>
<rect x="256.25" y="263.18" width="2.5" height="2.5" fill="#fff"/>
<rect x="287.35" y="246.90" width="52.55" height="37.45" rx="4" ry="4" fill="#000"/>
<text x="313.0" y="243.3" font-size="6.3" class="b" text-anchor="middle" fill="#1c1c1c" textLength="24.9" lengthAdjust="spacingAndGlyphs">stimulus</text>
<rect x="312.15" y="263.18" width="2.5" height="2.5" fill="#fff"/>
<rect x="342.90" y="246.90" width="52.70" height="37.45" rx="4" ry="4" fill="#000"/>
<text x="369.8" y="243.3" font-size="6.3" class="b" text-anchor="middle" fill="#1c1c1c" textLength="16.5" lengthAdjust="spacingAndGlyphs">delay</text>
<rect x="367.55" y="263.18" width="2.5" height="2.5" fill="#fff"/>
<rect x="177.8" y="289.25" width="10.3" height="1.4" fill="#151515"/>
<rect x="216.0" y="289.25" width="27.7" height="1.4" fill="#151515"/>
<rect x="272.4" y="289.25" width="25.2" height="1.4" fill="#151515"/>
<rect x="326.6" y="289.25" width="26.6" height="1.4" fill="#151515"/>
<text x="201.3" y="291.6" font-size="5.8" text-anchor="middle" fill="#2a2a2a" textLength="17.6" lengthAdjust="spacingAndGlyphs">100 ms</text>
<text x="257.5" y="291.6" font-size="5.8" text-anchor="middle" fill="#2a2a2a" textLength="18.2" lengthAdjust="spacingAndGlyphs">200 ms</text>
<text x="312.3" y="291.6" font-size="5.8" text-anchor="middle" fill="#2a2a2a" textLength="17.6" lengthAdjust="spacingAndGlyphs">150 ms</text>
<text x="369.3" y="291.6" font-size="5.8" text-anchor="middle" fill="#2a2a2a" textLength="21.6" lengthAdjust="spacingAndGlyphs">8050 ms</text>
<path d="M386.4 289.9 H396.8 M393.9 287.2 l3.1 2.7 l-3.1 2.7" fill="none" stroke="#111" stroke-width="1.4" stroke-linejoin="miter"/>
</g>
<path id="stimE" d="M298.2 270.4 Q297.6 275.6 294.6 277.9 L302 277.9 Q299 275.6 298.2 270.4Z" fill="#b9b9b9"/>
</svg>
</body></html>
